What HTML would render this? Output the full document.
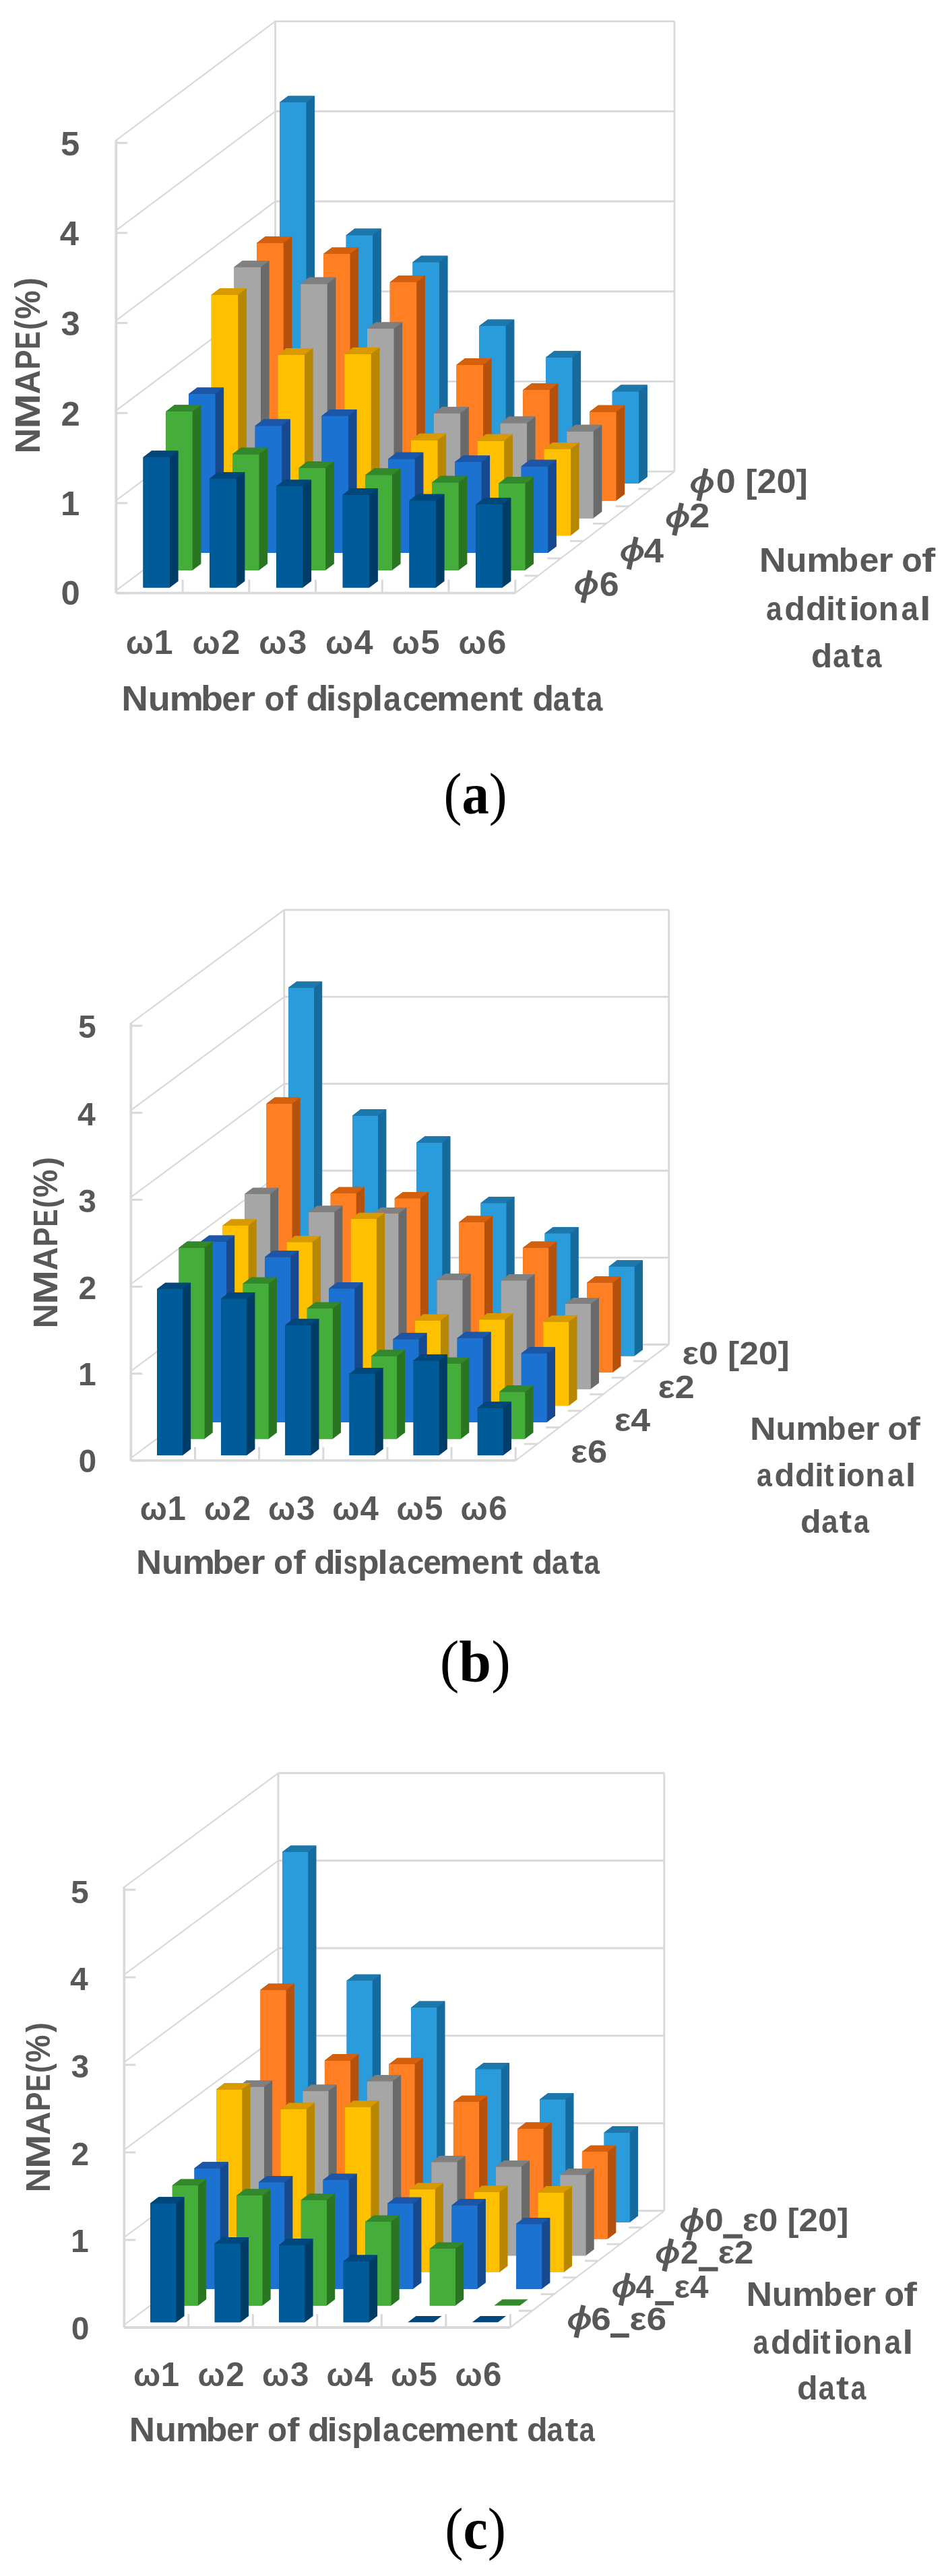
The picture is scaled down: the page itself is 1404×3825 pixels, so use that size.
<!DOCTYPE html>
<html><head><meta charset="utf-8"><title>NMAPE 3D column charts</title>
<style>html,body{margin:0;padding:0;background:#fff;width:1404px;height:3825px;overflow:hidden}svg{display:block;will-change:transform}</style></head>
<body>
<svg width="1404" height="3825" viewBox="0 0 1404 3825" shape-rendering="geometricPrecision">
<defs><filter id="soft" filterUnits="userSpaceOnUse" x="0" y="0" width="1404" height="3825"><feGaussianBlur stdDeviation="0.45"/></filter></defs>
<rect width="1404" height="3825" fill="#fff"/>
<g filter="url(#soft)">
<line x1="408.6" y1="700.1" x2="1001.0" y2="700.1" stroke="#d9d9d9" stroke-width="2.9"/>
<line x1="172.3" y1="876.9" x2="408.6" y2="700.1" stroke="#d9d9d9" stroke-width="2.2"/>
<line x1="408.6" y1="566.4" x2="1001.0" y2="566.4" stroke="#d9d9d9" stroke-width="2.9"/>
<line x1="172.3" y1="743.2" x2="408.6" y2="566.4" stroke="#d9d9d9" stroke-width="2.2"/>
<line x1="408.6" y1="432.7" x2="1001.0" y2="432.7" stroke="#d9d9d9" stroke-width="2.9"/>
<line x1="172.3" y1="609.5" x2="408.6" y2="432.7" stroke="#d9d9d9" stroke-width="2.2"/>
<line x1="408.6" y1="299.0" x2="1001.0" y2="299.0" stroke="#d9d9d9" stroke-width="2.9"/>
<line x1="172.3" y1="475.8" x2="408.6" y2="299.0" stroke="#d9d9d9" stroke-width="2.2"/>
<line x1="408.6" y1="165.3" x2="1001.0" y2="165.3" stroke="#d9d9d9" stroke-width="2.9"/>
<line x1="172.3" y1="342.1" x2="408.6" y2="165.3" stroke="#d9d9d9" stroke-width="2.2"/>
<line x1="408.6" y1="31.6" x2="1001.0" y2="31.6" stroke="#d9d9d9" stroke-width="2.9"/>
<line x1="172.3" y1="208.4" x2="408.6" y2="31.6" stroke="#d9d9d9" stroke-width="2.2"/>
<line x1="408.6" y1="700.1" x2="408.6" y2="31.6" stroke="#d9d9d9" stroke-width="2.9"/>
<line x1="1001.0" y1="700.1" x2="1001.0" y2="31.6" stroke="#d9d9d9" stroke-width="2.9"/>
<line x1="764.8" y1="880.7" x2="1001.0" y2="700.1" stroke="#d9d9d9" stroke-width="2.2"/>
<line x1="778.5" y1="854.9" x2="798.5" y2="854.9" stroke="#d9d9d9" stroke-width="2.9"/>
<line x1="812.3" y1="829.1" x2="832.3" y2="829.1" stroke="#d9d9d9" stroke-width="2.9"/>
<line x1="846.0" y1="803.3" x2="866.0" y2="803.3" stroke="#d9d9d9" stroke-width="2.9"/>
<line x1="879.8" y1="777.5" x2="899.8" y2="777.5" stroke="#d9d9d9" stroke-width="2.9"/>
<line x1="913.5" y1="751.7" x2="933.5" y2="751.7" stroke="#d9d9d9" stroke-width="2.9"/>
<line x1="947.3" y1="725.9" x2="967.3" y2="725.9" stroke="#d9d9d9" stroke-width="2.9"/>
<polygon points="415.0,717.8 454.5,717.8 467.1,708.2 467.1,142.4 427.6,142.4 415.0,152.1" fill="#136a9c"/>
<polygon points="415.0,717.8 454.5,717.8 454.5,152.1 415.0,152.1" fill="#2a9bdb"/>
<polygon points="415.0,152.1 454.5,152.1 467.1,142.4 427.6,142.4" fill="#1b77aa"/>
<polygon points="513.7,717.8 553.2,717.8 565.9,708.2 565.9,339.5 526.4,339.5 513.7,349.2" fill="#136a9c"/>
<polygon points="513.7,717.8 553.2,717.8 553.2,349.2 513.7,349.2" fill="#2a9bdb"/>
<polygon points="513.7,349.2 553.2,349.2 565.9,339.5 526.4,339.5" fill="#1b77aa"/>
<polygon points="612.5,717.8 652.0,717.8 664.6,708.2 664.6,379.7 625.1,379.7 612.5,389.3" fill="#136a9c"/>
<polygon points="612.5,717.8 652.0,717.8 652.0,389.3 612.5,389.3" fill="#2a9bdb"/>
<polygon points="612.5,389.3 652.0,389.3 664.6,379.7 625.1,379.7" fill="#1b77aa"/>
<polygon points="711.2,717.8 750.7,717.8 763.4,708.2 763.4,474.5 723.9,474.5 711.2,484.1" fill="#136a9c"/>
<polygon points="711.2,717.8 750.7,717.8 750.7,484.1 711.2,484.1" fill="#2a9bdb"/>
<polygon points="711.2,484.1 750.7,484.1 763.4,474.5 723.9,474.5" fill="#1b77aa"/>
<polygon points="810.0,717.8 849.5,717.8 862.1,708.2 862.1,521.0 822.6,521.0 810.0,530.7" fill="#136a9c"/>
<polygon points="810.0,717.8 849.5,717.8 849.5,530.7 810.0,530.7" fill="#2a9bdb"/>
<polygon points="810.0,530.7 849.5,530.7 862.1,521.0 822.6,521.0" fill="#1b77aa"/>
<polygon points="908.7,717.8 948.2,717.8 960.9,708.2 960.9,571.6 921.4,571.6 908.7,581.3" fill="#136a9c"/>
<polygon points="908.7,717.8 948.2,717.8 948.2,581.3 908.7,581.3" fill="#2a9bdb"/>
<polygon points="908.7,581.3 948.2,581.3 960.9,571.6 921.4,571.6" fill="#1b77aa"/>
<polygon points="381.2,743.6 420.7,743.6 433.4,734.0 433.4,351.1 393.9,351.1 381.2,360.8" fill="#b4510f"/>
<polygon points="381.2,743.6 420.7,743.6 420.7,360.8 381.2,360.8" fill="#ff7f24"/>
<polygon points="381.2,360.8 420.7,360.8 433.4,351.1 393.9,351.1" fill="#d4600f"/>
<polygon points="480.0,743.6 519.5,743.6 532.1,734.0 532.1,367.4 492.6,367.4 480.0,377.1" fill="#b4510f"/>
<polygon points="480.0,743.6 519.5,743.6 519.5,377.1 480.0,377.1" fill="#ff7f24"/>
<polygon points="480.0,377.1 519.5,377.1 532.1,367.4 492.6,367.4" fill="#d4600f"/>
<polygon points="578.7,743.6 618.2,743.6 630.9,734.0 630.9,409.2 591.4,409.2 578.7,418.9" fill="#b4510f"/>
<polygon points="578.7,743.6 618.2,743.6 618.2,418.9 578.7,418.9" fill="#ff7f24"/>
<polygon points="578.7,418.9 618.2,418.9 630.9,409.2 591.4,409.2" fill="#d4600f"/>
<polygon points="677.5,743.6 717.0,743.6 729.6,734.0 729.6,532.0 690.1,532.0 677.5,541.7" fill="#b4510f"/>
<polygon points="677.5,743.6 717.0,743.6 717.0,541.7 677.5,541.7" fill="#ff7f24"/>
<polygon points="677.5,541.7 717.0,541.7 729.6,532.0 690.1,532.0" fill="#d4600f"/>
<polygon points="776.2,743.6 815.7,743.6 828.4,734.0 828.4,569.3 788.9,569.3 776.2,579.0" fill="#b4510f"/>
<polygon points="776.2,743.6 815.7,743.6 815.7,579.0 776.2,579.0" fill="#ff7f24"/>
<polygon points="776.2,579.0 815.7,579.0 828.4,569.3 788.9,569.3" fill="#d4600f"/>
<polygon points="875.0,743.6 914.5,743.6 927.1,734.0 927.1,601.7 887.6,601.7 875.0,611.4" fill="#b4510f"/>
<polygon points="875.0,743.6 914.5,743.6 914.5,611.4 875.0,611.4" fill="#ff7f24"/>
<polygon points="875.0,611.4 914.5,611.4 927.1,601.7 887.6,601.7" fill="#d4600f"/>
<polygon points="347.5,769.4 387.0,769.4 399.6,759.8 399.6,387.0 360.1,387.0 347.5,396.6" fill="#6b6b6b"/>
<polygon points="347.5,769.4 387.0,769.4 387.0,396.6 347.5,396.6" fill="#a6a6a6"/>
<polygon points="347.5,396.6 387.0,396.6 399.6,387.0 360.1,387.0" fill="#808080"/>
<polygon points="446.2,769.4 485.7,769.4 498.4,759.8 498.4,411.8 458.9,411.8 446.2,421.5" fill="#6b6b6b"/>
<polygon points="446.2,769.4 485.7,769.4 485.7,421.5 446.2,421.5" fill="#a6a6a6"/>
<polygon points="446.2,421.5 485.7,421.5 498.4,411.8 458.9,411.8" fill="#808080"/>
<polygon points="545.0,769.4 584.5,769.4 597.1,759.8 597.1,478.4 557.6,478.4 545.0,488.1" fill="#6b6b6b"/>
<polygon points="545.0,769.4 584.5,769.4 584.5,488.1 545.0,488.1" fill="#a6a6a6"/>
<polygon points="545.0,488.1 584.5,488.1 597.1,478.4 557.6,478.4" fill="#808080"/>
<polygon points="643.7,769.4 683.2,769.4 695.9,759.8 695.9,603.9 656.4,603.9 643.7,613.6" fill="#6b6b6b"/>
<polygon points="643.7,769.4 683.2,769.4 683.2,613.6 643.7,613.6" fill="#a6a6a6"/>
<polygon points="643.7,613.6 683.2,613.6 695.9,603.9 656.4,603.9" fill="#808080"/>
<polygon points="742.5,769.4 782.0,769.4 794.6,759.8 794.6,618.6 755.1,618.6 742.5,628.2" fill="#6b6b6b"/>
<polygon points="742.5,769.4 782.0,769.4 782.0,628.2 742.5,628.2" fill="#a6a6a6"/>
<polygon points="742.5,628.2 782.0,628.2 794.6,618.6 755.1,618.6" fill="#808080"/>
<polygon points="841.2,769.4 880.7,769.4 893.4,759.8 893.4,630.7 853.9,630.7 841.2,640.4" fill="#6b6b6b"/>
<polygon points="841.2,769.4 880.7,769.4 880.7,640.4 841.2,640.4" fill="#a6a6a6"/>
<polygon points="841.2,640.4 880.7,640.4 893.4,630.7 853.9,630.7" fill="#808080"/>
<polygon points="313.7,795.2 353.2,795.2 365.9,785.6 365.9,428.1 326.4,428.1 313.7,437.8" fill="#b88700"/>
<polygon points="313.7,795.2 353.2,795.2 353.2,437.8 313.7,437.8" fill="#ffc000"/>
<polygon points="313.7,437.8 353.2,437.8 365.9,428.1 326.4,428.1" fill="#d89a00"/>
<polygon points="412.5,795.2 452.0,795.2 464.6,785.6 464.6,517.1 425.1,517.1 412.5,526.8" fill="#b88700"/>
<polygon points="412.5,795.2 452.0,795.2 452.0,526.8 412.5,526.8" fill="#ffc000"/>
<polygon points="412.5,526.8 452.0,526.8 464.6,517.1 425.1,517.1" fill="#d89a00"/>
<polygon points="511.2,795.2 550.7,795.2 563.4,785.6 563.4,516.1 523.9,516.1 511.2,525.8" fill="#b88700"/>
<polygon points="511.2,795.2 550.7,795.2 550.7,525.8 511.2,525.8" fill="#ffc000"/>
<polygon points="511.2,525.8 550.7,525.8 563.4,516.1 523.9,516.1" fill="#d89a00"/>
<polygon points="610.0,795.2 649.5,795.2 662.1,785.6 662.1,643.8 622.6,643.8 610.0,653.5" fill="#b88700"/>
<polygon points="610.0,795.2 649.5,795.2 649.5,653.5 610.0,653.5" fill="#ffc000"/>
<polygon points="610.0,653.5 649.5,653.5 662.1,643.8 622.6,643.8" fill="#d89a00"/>
<polygon points="708.7,795.2 748.2,795.2 760.9,785.6 760.9,644.8 721.4,644.8 708.7,654.4" fill="#b88700"/>
<polygon points="708.7,795.2 748.2,795.2 748.2,654.4 708.7,654.4" fill="#ffc000"/>
<polygon points="708.7,654.4 748.2,654.4 760.9,644.8 721.4,644.8" fill="#d89a00"/>
<polygon points="807.5,795.2 847.0,795.2 859.6,785.6 859.6,656.9 820.1,656.9 807.5,666.6" fill="#b88700"/>
<polygon points="807.5,795.2 847.0,795.2 847.0,666.6 807.5,666.6" fill="#ffc000"/>
<polygon points="807.5,666.6 847.0,666.6 859.6,656.9 820.1,656.9" fill="#d89a00"/>
<polygon points="280.0,821.0 319.5,821.0 332.1,811.4 332.1,575.4 292.6,575.4 280.0,585.1" fill="#164a8e"/>
<polygon points="280.0,821.0 319.5,821.0 319.5,585.1 280.0,585.1" fill="#1e72d0"/>
<polygon points="280.0,585.1 319.5,585.1 332.1,575.4 292.6,575.4" fill="#1a56a8"/>
<polygon points="378.7,821.0 418.2,821.0 430.9,811.4 430.9,622.6 391.4,622.6 378.7,632.3" fill="#164a8e"/>
<polygon points="378.7,821.0 418.2,821.0 418.2,632.3 378.7,632.3" fill="#1e72d0"/>
<polygon points="378.7,632.3 418.2,632.3 430.9,622.6 391.4,622.6" fill="#1a56a8"/>
<polygon points="477.5,821.0 517.0,821.0 529.6,811.4 529.6,608.0 490.1,608.0 477.5,617.6" fill="#164a8e"/>
<polygon points="477.5,821.0 517.0,821.0 517.0,617.6 477.5,617.6" fill="#1e72d0"/>
<polygon points="477.5,617.6 517.0,617.6 529.6,608.0 490.1,608.0" fill="#1a56a8"/>
<polygon points="576.2,821.0 615.7,821.0 628.4,811.4 628.4,671.8 588.9,671.8 576.2,681.5" fill="#164a8e"/>
<polygon points="576.2,821.0 615.7,821.0 615.7,681.5 576.2,681.5" fill="#1e72d0"/>
<polygon points="576.2,681.5 615.7,681.5 628.4,671.8 588.9,671.8" fill="#1a56a8"/>
<polygon points="675.0,821.0 714.5,821.0 727.1,811.4 727.1,676.4 687.6,676.4 675.0,686.1" fill="#164a8e"/>
<polygon points="675.0,821.0 714.5,821.0 714.5,686.1 675.0,686.1" fill="#1e72d0"/>
<polygon points="675.0,686.1 714.5,686.1 727.1,676.4 687.6,676.4" fill="#1a56a8"/>
<polygon points="773.7,821.0 813.2,821.0 825.9,811.4 825.9,682.7 786.4,682.7 773.7,692.4" fill="#164a8e"/>
<polygon points="773.7,821.0 813.2,821.0 813.2,692.4 773.7,692.4" fill="#1e72d0"/>
<polygon points="773.7,692.4 813.2,692.4 825.9,682.7 786.4,682.7" fill="#1a56a8"/>
<polygon points="246.2,846.8 285.7,846.8 298.4,837.2 298.4,601.2 258.9,601.2 246.2,610.9" fill="#2b7523"/>
<polygon points="246.2,846.8 285.7,846.8 285.7,610.9 246.2,610.9" fill="#44ae3b"/>
<polygon points="246.2,610.9 285.7,610.9 298.4,601.2 258.9,601.2" fill="#32882b"/>
<polygon points="345.0,846.8 384.5,846.8 397.1,837.2 397.1,664.7 357.6,664.7 345.0,674.4" fill="#2b7523"/>
<polygon points="345.0,846.8 384.5,846.8 384.5,674.4 345.0,674.4" fill="#44ae3b"/>
<polygon points="345.0,674.4 384.5,674.4 397.1,664.7 357.6,664.7" fill="#32882b"/>
<polygon points="443.7,846.8 483.2,846.8 495.9,837.2 495.9,685.0 456.4,685.0 443.7,694.7" fill="#2b7523"/>
<polygon points="443.7,846.8 483.2,846.8 483.2,694.7 443.7,694.7" fill="#44ae3b"/>
<polygon points="443.7,694.7 483.2,694.7 495.9,685.0 456.4,685.0" fill="#32882b"/>
<polygon points="542.5,846.8 582.0,846.8 594.6,837.2 594.6,695.6 555.1,695.6 542.5,705.2" fill="#2b7523"/>
<polygon points="542.5,846.8 582.0,846.8 582.0,705.2 542.5,705.2" fill="#44ae3b"/>
<polygon points="542.5,705.2 582.0,705.2 594.6,695.6 555.1,695.6" fill="#32882b"/>
<polygon points="641.2,846.8 680.7,846.8 693.4,837.2 693.4,706.7 653.9,706.7 641.2,716.3" fill="#2b7523"/>
<polygon points="641.2,846.8 680.7,846.8 680.7,716.3 641.2,716.3" fill="#44ae3b"/>
<polygon points="641.2,716.3 680.7,716.3 693.4,706.7 653.9,706.7" fill="#32882b"/>
<polygon points="740.0,846.8 779.5,846.8 792.1,837.2 792.1,708.3 752.6,708.3 740.0,717.9" fill="#2b7523"/>
<polygon points="740.0,846.8 779.5,846.8 779.5,717.9 740.0,717.9" fill="#44ae3b"/>
<polygon points="740.0,717.9 779.5,717.9 792.1,708.3 752.6,708.3" fill="#32882b"/>
<polygon points="212.5,872.6 252.0,872.6 264.6,863.0 264.6,669.3 225.1,669.3 212.5,679.0" fill="#003c66"/>
<polygon points="212.5,872.6 252.0,872.6 252.0,679.0 212.5,679.0" fill="#005c99"/>
<polygon points="212.5,679.0 252.0,679.0 264.6,669.3 225.1,669.3" fill="#00477b"/>
<polygon points="311.2,872.6 350.7,872.6 363.4,863.0 363.4,700.9 323.9,700.9 311.2,710.6" fill="#003c66"/>
<polygon points="311.2,872.6 350.7,872.6 350.7,710.6 311.2,710.6" fill="#005c99"/>
<polygon points="311.2,710.6 350.7,710.6 363.4,700.9 323.9,700.9" fill="#00477b"/>
<polygon points="410.0,872.6 449.5,872.6 462.1,863.0 462.1,712.4 422.6,712.4 410.0,722.1" fill="#003c66"/>
<polygon points="410.0,872.6 449.5,872.6 449.5,722.1 410.0,722.1" fill="#005c99"/>
<polygon points="410.0,722.1 449.5,722.1 462.1,712.4 422.6,712.4" fill="#00477b"/>
<polygon points="508.7,872.6 548.2,872.6 560.9,863.0 560.9,725.1 521.4,725.1 508.7,734.8" fill="#003c66"/>
<polygon points="508.7,872.6 548.2,872.6 548.2,734.8 508.7,734.8" fill="#005c99"/>
<polygon points="508.7,734.8 548.2,734.8 560.9,725.1 521.4,725.1" fill="#00477b"/>
<polygon points="607.5,872.6 647.0,872.6 659.6,863.0 659.6,733.7 620.1,733.7 607.5,743.3" fill="#003c66"/>
<polygon points="607.5,872.6 647.0,872.6 647.0,743.3 607.5,743.3" fill="#005c99"/>
<polygon points="607.5,743.3 647.0,743.3 659.6,733.7 620.1,733.7" fill="#00477b"/>
<polygon points="706.2,872.6 745.7,872.6 758.4,863.0 758.4,739.3 718.9,739.3 706.2,748.9" fill="#003c66"/>
<polygon points="706.2,872.6 745.7,872.6 745.7,748.9 706.2,748.9" fill="#005c99"/>
<polygon points="706.2,748.9 745.7,748.9 758.4,739.3 718.9,739.3" fill="#00477b"/>
<line x1="172.3" y1="880.7" x2="172.3" y2="207.7" stroke="#d9d9d9" stroke-width="3.8"/>
<line x1="172.3" y1="880.7" x2="764.8" y2="880.7" stroke="#d9d9d9" stroke-width="3.8"/>
<line x1="172.3" y1="880.7" x2="189.3" y2="880.7" stroke="#d9d9d9" stroke-width="3.0"/>
<line x1="172.3" y1="747.0" x2="189.3" y2="747.0" stroke="#d9d9d9" stroke-width="3.0"/>
<line x1="172.3" y1="613.3" x2="189.3" y2="613.3" stroke="#d9d9d9" stroke-width="3.0"/>
<line x1="172.3" y1="479.6" x2="189.3" y2="479.6" stroke="#d9d9d9" stroke-width="3.0"/>
<line x1="172.3" y1="345.9" x2="189.3" y2="345.9" stroke="#d9d9d9" stroke-width="3.0"/>
<line x1="172.3" y1="212.2" x2="189.3" y2="212.2" stroke="#d9d9d9" stroke-width="3.0"/>
<line x1="271.1" y1="860.7" x2="271.1" y2="880.7" stroke="#d9d9d9" stroke-width="3.0"/>
<line x1="369.8" y1="860.7" x2="369.8" y2="880.7" stroke="#d9d9d9" stroke-width="3.0"/>
<line x1="468.6" y1="860.7" x2="468.6" y2="880.7" stroke="#d9d9d9" stroke-width="3.0"/>
<line x1="567.3" y1="860.7" x2="567.3" y2="880.7" stroke="#d9d9d9" stroke-width="3.0"/>
<line x1="666.0" y1="860.7" x2="666.0" y2="880.7" stroke="#d9d9d9" stroke-width="3.0"/>
<line x1="764.8" y1="860.7" x2="764.8" y2="880.7" stroke="#d9d9d9" stroke-width="3.0"/>
<line x1="421.8" y1="1996.5" x2="992.7" y2="1996.5" stroke="#d9d9d9" stroke-width="2.9"/>
<line x1="194.3" y1="2164.9" x2="421.8" y2="1996.5" stroke="#d9d9d9" stroke-width="2.2"/>
<line x1="421.8" y1="1867.4" x2="992.7" y2="1867.4" stroke="#d9d9d9" stroke-width="2.9"/>
<line x1="194.3" y1="2035.8" x2="421.8" y2="1867.4" stroke="#d9d9d9" stroke-width="2.2"/>
<line x1="421.8" y1="1738.3" x2="992.7" y2="1738.3" stroke="#d9d9d9" stroke-width="2.9"/>
<line x1="194.3" y1="1906.7" x2="421.8" y2="1738.3" stroke="#d9d9d9" stroke-width="2.2"/>
<line x1="421.8" y1="1609.2" x2="992.7" y2="1609.2" stroke="#d9d9d9" stroke-width="2.9"/>
<line x1="194.3" y1="1777.6" x2="421.8" y2="1609.2" stroke="#d9d9d9" stroke-width="2.2"/>
<line x1="421.8" y1="1480.1" x2="992.7" y2="1480.1" stroke="#d9d9d9" stroke-width="2.9"/>
<line x1="194.3" y1="1648.5" x2="421.8" y2="1480.1" stroke="#d9d9d9" stroke-width="2.2"/>
<line x1="421.8" y1="1351.0" x2="992.7" y2="1351.0" stroke="#d9d9d9" stroke-width="2.9"/>
<line x1="194.3" y1="1519.4" x2="421.8" y2="1351.0" stroke="#d9d9d9" stroke-width="2.2"/>
<line x1="421.8" y1="1996.5" x2="421.8" y2="1351.0" stroke="#d9d9d9" stroke-width="2.9"/>
<line x1="992.7" y1="1996.5" x2="992.7" y2="1351.0" stroke="#d9d9d9" stroke-width="2.9"/>
<line x1="765.2" y1="2168.7" x2="992.7" y2="1996.5" stroke="#d9d9d9" stroke-width="2.2"/>
<line x1="777.7" y1="2144.1" x2="797.7" y2="2144.1" stroke="#d9d9d9" stroke-width="2.9"/>
<line x1="810.2" y1="2119.5" x2="830.2" y2="2119.5" stroke="#d9d9d9" stroke-width="2.9"/>
<line x1="842.7" y1="2094.9" x2="862.7" y2="2094.9" stroke="#d9d9d9" stroke-width="2.9"/>
<line x1="875.2" y1="2070.3" x2="895.2" y2="2070.3" stroke="#d9d9d9" stroke-width="2.9"/>
<line x1="907.7" y1="2045.7" x2="927.7" y2="2045.7" stroke="#d9d9d9" stroke-width="2.9"/>
<line x1="940.2" y1="2021.1" x2="960.2" y2="2021.1" stroke="#d9d9d9" stroke-width="2.9"/>
<polygon points="428.0,2013.4 466.1,2013.4 478.2,2004.2 478.2,1457.4 440.2,1457.4 428.0,1466.6" fill="#136a9c"/>
<polygon points="428.0,2013.4 466.1,2013.4 466.1,1466.6 428.0,1466.6" fill="#2a9bdb"/>
<polygon points="428.0,1466.6 466.1,1466.6 478.2,1457.4 440.2,1457.4" fill="#1b77aa"/>
<polygon points="523.2,2013.4 561.2,2013.4 573.4,2004.2 573.4,1647.1 535.3,1647.1 523.2,1656.4" fill="#136a9c"/>
<polygon points="523.2,2013.4 561.2,2013.4 561.2,1656.4 523.2,1656.4" fill="#2a9bdb"/>
<polygon points="523.2,1656.4 561.2,1656.4 573.4,1647.1 535.3,1647.1" fill="#1b77aa"/>
<polygon points="618.3,2013.4 656.4,2013.4 668.5,2004.2 668.5,1687.3 630.5,1687.3 618.3,1696.5" fill="#136a9c"/>
<polygon points="618.3,2013.4 656.4,2013.4 656.4,1696.5 618.3,1696.5" fill="#2a9bdb"/>
<polygon points="618.3,1696.5 656.4,1696.5 668.5,1687.3 630.5,1687.3" fill="#1b77aa"/>
<polygon points="713.5,2013.4 751.5,2013.4 763.7,2004.2 763.7,1777.0 725.6,1777.0 713.5,1786.2" fill="#136a9c"/>
<polygon points="713.5,2013.4 751.5,2013.4 751.5,1786.2 713.5,1786.2" fill="#2a9bdb"/>
<polygon points="713.5,1786.2 751.5,1786.2 763.7,1777.0 725.6,1777.0" fill="#1b77aa"/>
<polygon points="808.6,2013.4 846.7,2013.4 858.8,2004.2 858.8,1821.9 820.8,1821.9 808.6,1831.2" fill="#136a9c"/>
<polygon points="808.6,2013.4 846.7,2013.4 846.7,1831.2 808.6,1831.2" fill="#2a9bdb"/>
<polygon points="808.6,1831.2 846.7,1831.2 858.8,1821.9 820.8,1821.9" fill="#1b77aa"/>
<polygon points="903.8,2013.4 941.8,2013.4 954.0,2004.2 954.0,1871.3 915.9,1871.3 903.8,1880.5" fill="#136a9c"/>
<polygon points="903.8,2013.4 941.8,2013.4 941.8,1880.5 903.8,1880.5" fill="#2a9bdb"/>
<polygon points="903.8,1880.5 941.8,1880.5 954.0,1871.3 915.9,1871.3" fill="#1b77aa"/>
<polygon points="395.5,2038.0 433.6,2038.0 445.7,2028.8 445.7,1629.5 407.7,1629.5 395.5,1638.8" fill="#b4510f"/>
<polygon points="395.5,2038.0 433.6,2038.0 433.6,1638.8 395.5,1638.8" fill="#ff7f24"/>
<polygon points="395.5,1638.8 433.6,1638.8 445.7,1629.5 407.7,1629.5" fill="#d4600f"/>
<polygon points="490.7,2038.0 528.7,2038.0 540.9,2028.8 540.9,1762.8 502.8,1762.8 490.7,1772.0" fill="#b4510f"/>
<polygon points="490.7,2038.0 528.7,2038.0 528.7,1772.0 490.7,1772.0" fill="#ff7f24"/>
<polygon points="490.7,1772.0 528.7,1772.0 540.9,1762.8 502.8,1762.8" fill="#d4600f"/>
<polygon points="585.8,2038.0 623.9,2038.0 636.0,2028.8 636.0,1770.1 598.0,1770.1 585.8,1779.3" fill="#b4510f"/>
<polygon points="585.8,2038.0 623.9,2038.0 623.9,1779.3 585.8,1779.3" fill="#ff7f24"/>
<polygon points="585.8,1779.3 623.9,1779.3 636.0,1770.1 598.0,1770.1" fill="#d4600f"/>
<polygon points="681.0,2038.0 719.0,2038.0 731.2,2028.8 731.2,1805.6 693.1,1805.6 681.0,1814.9" fill="#b4510f"/>
<polygon points="681.0,2038.0 719.0,2038.0 719.0,1814.9 681.0,1814.9" fill="#ff7f24"/>
<polygon points="681.0,1814.9 719.0,1814.9 731.2,1805.6 693.1,1805.6" fill="#d4600f"/>
<polygon points="776.1,2038.0 814.2,2038.0 826.3,2028.8 826.3,1843.5 788.3,1843.5 776.1,1852.7" fill="#b4510f"/>
<polygon points="776.1,2038.0 814.2,2038.0 814.2,1852.7 776.1,1852.7" fill="#ff7f24"/>
<polygon points="776.1,1852.7 814.2,1852.7 826.3,1843.5 788.3,1843.5" fill="#d4600f"/>
<polygon points="871.3,2038.0 909.3,2038.0 921.5,2028.8 921.5,1895.3 883.4,1895.3 871.3,1904.6" fill="#b4510f"/>
<polygon points="871.3,2038.0 909.3,2038.0 909.3,1904.6 871.3,1904.6" fill="#ff7f24"/>
<polygon points="871.3,1904.6 909.3,1904.6 921.5,1895.3 883.4,1895.3" fill="#d4600f"/>
<polygon points="363.0,2062.6 401.1,2062.6 413.2,2053.4 413.2,1763.7 375.2,1763.7 363.0,1773.0" fill="#6b6b6b"/>
<polygon points="363.0,2062.6 401.1,2062.6 401.1,1773.0 363.0,1773.0" fill="#a6a6a6"/>
<polygon points="363.0,1773.0 401.1,1773.0 413.2,1763.7 375.2,1763.7" fill="#808080"/>
<polygon points="458.2,2062.6 496.2,2062.6 508.4,2053.4 508.4,1790.6 470.3,1790.6 458.2,1799.8" fill="#6b6b6b"/>
<polygon points="458.2,2062.6 496.2,2062.6 496.2,1799.8 458.2,1799.8" fill="#a6a6a6"/>
<polygon points="458.2,1799.8 496.2,1799.8 508.4,1790.6 470.3,1790.6" fill="#808080"/>
<polygon points="553.3,2062.6 591.4,2062.6 603.5,2053.4 603.5,1792.9 565.5,1792.9 553.3,1802.1" fill="#6b6b6b"/>
<polygon points="553.3,2062.6 591.4,2062.6 591.4,1802.1 553.3,1802.1" fill="#a6a6a6"/>
<polygon points="553.3,1802.1 591.4,1802.1 603.5,1792.9 565.5,1792.9" fill="#808080"/>
<polygon points="648.5,2062.6 686.5,2062.6 698.7,2053.4 698.7,1891.2 660.6,1891.2 648.5,1900.4" fill="#6b6b6b"/>
<polygon points="648.5,2062.6 686.5,2062.6 686.5,1900.4 648.5,1900.4" fill="#a6a6a6"/>
<polygon points="648.5,1900.4 686.5,1900.4 698.7,1891.2 660.6,1891.2" fill="#808080"/>
<polygon points="743.6,2062.6 781.7,2062.6 793.8,2053.4 793.8,1892.1 755.8,1892.1 743.6,1901.3" fill="#6b6b6b"/>
<polygon points="743.6,2062.6 781.7,2062.6 781.7,1901.3 743.6,1901.3" fill="#a6a6a6"/>
<polygon points="743.6,1901.3 781.7,1901.3 793.8,1892.1 755.8,1892.1" fill="#808080"/>
<polygon points="838.8,2062.6 876.8,2062.6 889.0,2053.4 889.0,1926.9 850.9,1926.9 838.8,1936.1" fill="#6b6b6b"/>
<polygon points="838.8,2062.6 876.8,2062.6 876.8,1936.1 838.8,1936.1" fill="#a6a6a6"/>
<polygon points="838.8,1936.1 876.8,1936.1 889.0,1926.9 850.9,1926.9" fill="#808080"/>
<polygon points="330.5,2087.2 368.6,2087.2 380.7,2078.0 380.7,1810.5 342.7,1810.5 330.5,1819.8" fill="#b88700"/>
<polygon points="330.5,2087.2 368.6,2087.2 368.6,1819.8 330.5,1819.8" fill="#ffc000"/>
<polygon points="330.5,1819.8 368.6,1819.8 380.7,1810.5 342.7,1810.5" fill="#d89a00"/>
<polygon points="425.7,2087.2 463.7,2087.2 475.9,2078.0 475.9,1834.9 437.8,1834.9 425.7,1844.2" fill="#b88700"/>
<polygon points="425.7,2087.2 463.7,2087.2 463.7,1844.2 425.7,1844.2" fill="#ffc000"/>
<polygon points="425.7,1844.2 463.7,1844.2 475.9,1834.9 437.8,1834.9" fill="#d89a00"/>
<polygon points="520.8,2087.2 558.9,2087.2 571.0,2078.0 571.0,1800.7 533.0,1800.7 520.8,1810.0" fill="#b88700"/>
<polygon points="520.8,2087.2 558.9,2087.2 558.9,1810.0 520.8,1810.0" fill="#ffc000"/>
<polygon points="520.8,1810.0 558.9,1810.0 571.0,1800.7 533.0,1800.7" fill="#d89a00"/>
<polygon points="616.0,2087.2 654.0,2087.2 666.2,2078.0 666.2,1951.5 628.1,1951.5 616.0,1960.7" fill="#b88700"/>
<polygon points="616.0,2087.2 654.0,2087.2 654.0,1960.7 616.0,1960.7" fill="#ffc000"/>
<polygon points="616.0,1960.7 654.0,1960.7 666.2,1951.5 628.1,1951.5" fill="#d89a00"/>
<polygon points="711.1,2087.2 749.2,2087.2 761.3,2078.0 761.3,1950.1 723.3,1950.1 711.1,1959.3" fill="#b88700"/>
<polygon points="711.1,2087.2 749.2,2087.2 749.2,1959.3 711.1,1959.3" fill="#ffc000"/>
<polygon points="711.1,1959.3 749.2,1959.3 761.3,1950.1 723.3,1950.1" fill="#d89a00"/>
<polygon points="806.3,2087.2 844.3,2087.2 856.5,2078.0 856.5,1953.6 818.4,1953.6 806.3,1962.8" fill="#b88700"/>
<polygon points="806.3,2087.2 844.3,2087.2 844.3,1962.8 806.3,1962.8" fill="#ffc000"/>
<polygon points="806.3,1962.8 844.3,1962.8 856.5,1953.6 818.4,1953.6" fill="#d89a00"/>
<polygon points="298.0,2111.8 336.1,2111.8 348.2,2102.6 348.2,1834.4 310.2,1834.4 298.0,1843.6" fill="#164a8e"/>
<polygon points="298.0,2111.8 336.1,2111.8 336.1,1843.6 298.0,1843.6" fill="#1e72d0"/>
<polygon points="298.0,1843.6 336.1,1843.6 348.2,1834.4 310.2,1834.4" fill="#1a56a8"/>
<polygon points="393.2,2111.8 431.2,2111.8 443.4,2102.6 443.4,1857.2 405.3,1857.2 393.2,1866.4" fill="#164a8e"/>
<polygon points="393.2,2111.8 431.2,2111.8 431.2,1866.4 393.2,1866.4" fill="#1e72d0"/>
<polygon points="393.2,1866.4 431.2,1866.4 443.4,1857.2 405.3,1857.2" fill="#1a56a8"/>
<polygon points="488.3,2111.8 526.4,2111.8 538.5,2102.6 538.5,1904.0 500.5,1904.0 488.3,1913.2" fill="#164a8e"/>
<polygon points="488.3,2111.8 526.4,2111.8 526.4,1913.2 488.3,1913.2" fill="#1e72d0"/>
<polygon points="488.3,1913.2 526.4,1913.2 538.5,1904.0 500.5,1904.0" fill="#1a56a8"/>
<polygon points="583.5,2111.8 621.5,2111.8 633.7,2102.6 633.7,1979.2 595.6,1979.2 583.5,1988.4" fill="#164a8e"/>
<polygon points="583.5,2111.8 621.5,2111.8 621.5,1988.4 583.5,1988.4" fill="#1e72d0"/>
<polygon points="583.5,1988.4 621.5,1988.4 633.7,1979.2 595.6,1979.2" fill="#1a56a8"/>
<polygon points="678.6,2111.8 716.7,2111.8 728.8,2102.6 728.8,1977.7 690.8,1977.7 678.6,1986.9" fill="#164a8e"/>
<polygon points="678.6,2111.8 716.7,2111.8 716.7,1986.9 678.6,1986.9" fill="#1e72d0"/>
<polygon points="678.6,1986.9 716.7,1986.9 728.8,1977.7 690.8,1977.7" fill="#1a56a8"/>
<polygon points="773.8,2111.8 811.8,2111.8 824.0,2102.6 824.0,2000.3 785.9,2000.3 773.8,2009.5" fill="#164a8e"/>
<polygon points="773.8,2111.8 811.8,2111.8 811.8,2009.5 773.8,2009.5" fill="#1e72d0"/>
<polygon points="773.8,2009.5 811.8,2009.5 824.0,2000.3 785.9,2000.3" fill="#1a56a8"/>
<polygon points="265.5,2136.4 303.6,2136.4 315.7,2127.2 315.7,1843.6 277.7,1843.6 265.5,1852.8" fill="#2b7523"/>
<polygon points="265.5,2136.4 303.6,2136.4 303.6,1852.8 265.5,1852.8" fill="#44ae3b"/>
<polygon points="265.5,1852.8 303.6,1852.8 315.7,1843.6 277.7,1843.6" fill="#32882b"/>
<polygon points="360.7,2136.4 398.7,2136.4 410.9,2127.2 410.9,1896.8 372.8,1896.8 360.7,1906.0" fill="#2b7523"/>
<polygon points="360.7,2136.4 398.7,2136.4 398.7,1906.0 360.7,1906.0" fill="#44ae3b"/>
<polygon points="360.7,1906.0 398.7,1906.0 410.9,1896.8 372.8,1896.8" fill="#32882b"/>
<polygon points="455.8,2136.4 493.9,2136.4 506.0,2127.2 506.0,1933.8 468.0,1933.8 455.8,1943.1" fill="#2b7523"/>
<polygon points="455.8,2136.4 493.9,2136.4 493.9,1943.1 455.8,1943.1" fill="#44ae3b"/>
<polygon points="455.8,1943.1 493.9,1943.1 506.0,1933.8 468.0,1933.8" fill="#32882b"/>
<polygon points="551.0,2136.4 589.0,2136.4 601.2,2127.2 601.2,2004.6 563.1,2004.6 551.0,2013.8" fill="#2b7523"/>
<polygon points="551.0,2136.4 589.0,2136.4 589.0,2013.8 551.0,2013.8" fill="#44ae3b"/>
<polygon points="551.0,2013.8 589.0,2013.8 601.2,2004.6 563.1,2004.6" fill="#32882b"/>
<polygon points="646.1,2136.4 684.2,2136.4 696.3,2127.2 696.3,2015.7 658.3,2015.7 646.1,2024.9" fill="#2b7523"/>
<polygon points="646.1,2136.4 684.2,2136.4 684.2,2024.9 646.1,2024.9" fill="#44ae3b"/>
<polygon points="646.1,2024.9 684.2,2024.9 696.3,2015.7 658.3,2015.7" fill="#32882b"/>
<polygon points="741.3,2136.4 779.3,2136.4 791.5,2127.2 791.5,2057.1 753.4,2057.1 741.3,2066.4" fill="#2b7523"/>
<polygon points="741.3,2136.4 779.3,2136.4 779.3,2066.4 741.3,2066.4" fill="#44ae3b"/>
<polygon points="741.3,2066.4 779.3,2066.4 791.5,2057.1 753.4,2057.1" fill="#32882b"/>
<polygon points="233.0,2161.0 271.1,2161.0 283.2,2151.8 283.2,1904.7 245.2,1904.7 233.0,1914.0" fill="#003c66"/>
<polygon points="233.0,2161.0 271.1,2161.0 271.1,1914.0 233.0,1914.0" fill="#005c99"/>
<polygon points="233.0,1914.0 271.1,1914.0 283.2,1904.7 245.2,1904.7" fill="#00477b"/>
<polygon points="328.2,2161.0 366.2,2161.0 378.4,2151.8 378.4,1918.9 340.3,1918.9 328.2,1928.2" fill="#003c66"/>
<polygon points="328.2,2161.0 366.2,2161.0 366.2,1928.2 328.2,1928.2" fill="#005c99"/>
<polygon points="328.2,1928.2 366.2,1928.2 378.4,1918.9 340.3,1918.9" fill="#00477b"/>
<polygon points="423.3,2161.0 461.4,2161.0 473.5,2151.8 473.5,1958.6 435.5,1958.6 423.3,1967.8" fill="#003c66"/>
<polygon points="423.3,2161.0 461.4,2161.0 461.4,1967.8 423.3,1967.8" fill="#005c99"/>
<polygon points="423.3,1967.8 461.4,1967.8 473.5,1958.6 435.5,1958.6" fill="#00477b"/>
<polygon points="518.5,2161.0 556.5,2161.0 568.7,2151.8 568.7,2030.9 530.6,2030.9 518.5,2040.1" fill="#003c66"/>
<polygon points="518.5,2161.0 556.5,2161.0 556.5,2040.1 518.5,2040.1" fill="#005c99"/>
<polygon points="518.5,2040.1 556.5,2040.1 568.7,2030.9 530.6,2030.9" fill="#00477b"/>
<polygon points="613.6,2161.0 651.7,2161.0 663.8,2151.8 663.8,2011.0 625.8,2011.0 613.6,2020.2" fill="#003c66"/>
<polygon points="613.6,2161.0 651.7,2161.0 651.7,2020.2 613.6,2020.2" fill="#005c99"/>
<polygon points="613.6,2020.2 651.7,2020.2 663.8,2011.0 625.8,2011.0" fill="#00477b"/>
<polygon points="708.8,2161.0 746.8,2161.0 759.0,2151.8 759.0,2081.4 720.9,2081.4 708.8,2090.6" fill="#003c66"/>
<polygon points="708.8,2161.0 746.8,2161.0 746.8,2090.6 708.8,2090.6" fill="#005c99"/>
<polygon points="708.8,2090.6 746.8,2090.6 759.0,2081.4 720.9,2081.4" fill="#00477b"/>
<line x1="194.3" y1="2168.7" x2="194.3" y2="1518.7" stroke="#d9d9d9" stroke-width="3.8"/>
<line x1="194.3" y1="2168.7" x2="765.2" y2="2168.7" stroke="#d9d9d9" stroke-width="3.8"/>
<line x1="194.3" y1="2168.7" x2="211.3" y2="2168.7" stroke="#d9d9d9" stroke-width="3.0"/>
<line x1="194.3" y1="2039.6" x2="211.3" y2="2039.6" stroke="#d9d9d9" stroke-width="3.0"/>
<line x1="194.3" y1="1910.5" x2="211.3" y2="1910.5" stroke="#d9d9d9" stroke-width="3.0"/>
<line x1="194.3" y1="1781.4" x2="211.3" y2="1781.4" stroke="#d9d9d9" stroke-width="3.0"/>
<line x1="194.3" y1="1652.3" x2="211.3" y2="1652.3" stroke="#d9d9d9" stroke-width="3.0"/>
<line x1="194.3" y1="1523.2" x2="211.3" y2="1523.2" stroke="#d9d9d9" stroke-width="3.0"/>
<line x1="289.5" y1="2148.7" x2="289.5" y2="2168.7" stroke="#d9d9d9" stroke-width="3.0"/>
<line x1="384.6" y1="2148.7" x2="384.6" y2="2168.7" stroke="#d9d9d9" stroke-width="3.0"/>
<line x1="479.8" y1="2148.7" x2="479.8" y2="2168.7" stroke="#d9d9d9" stroke-width="3.0"/>
<line x1="574.9" y1="2148.7" x2="574.9" y2="2168.7" stroke="#d9d9d9" stroke-width="3.0"/>
<line x1="670.0" y1="2148.7" x2="670.0" y2="2168.7" stroke="#d9d9d9" stroke-width="3.0"/>
<line x1="765.2" y1="2148.7" x2="765.2" y2="2168.7" stroke="#d9d9d9" stroke-width="3.0"/>
<line x1="412.9" y1="3282.8" x2="985.8" y2="3282.8" stroke="#d9d9d9" stroke-width="2.9"/>
<line x1="184.3" y1="3452.2" x2="412.9" y2="3282.8" stroke="#d9d9d9" stroke-width="2.2"/>
<line x1="412.9" y1="3152.8" x2="985.8" y2="3152.8" stroke="#d9d9d9" stroke-width="2.9"/>
<line x1="184.3" y1="3322.2" x2="412.9" y2="3152.8" stroke="#d9d9d9" stroke-width="2.2"/>
<line x1="412.9" y1="3022.8" x2="985.8" y2="3022.8" stroke="#d9d9d9" stroke-width="2.9"/>
<line x1="184.3" y1="3192.2" x2="412.9" y2="3022.8" stroke="#d9d9d9" stroke-width="2.2"/>
<line x1="412.9" y1="2892.8" x2="985.8" y2="2892.8" stroke="#d9d9d9" stroke-width="2.9"/>
<line x1="184.3" y1="3062.2" x2="412.9" y2="2892.8" stroke="#d9d9d9" stroke-width="2.2"/>
<line x1="412.9" y1="2762.8" x2="985.8" y2="2762.8" stroke="#d9d9d9" stroke-width="2.9"/>
<line x1="184.3" y1="2932.2" x2="412.9" y2="2762.8" stroke="#d9d9d9" stroke-width="2.2"/>
<line x1="412.9" y1="2632.8" x2="985.8" y2="2632.8" stroke="#d9d9d9" stroke-width="2.9"/>
<line x1="184.3" y1="2802.2" x2="412.9" y2="2632.8" stroke="#d9d9d9" stroke-width="2.2"/>
<line x1="412.9" y1="3282.8" x2="412.9" y2="2632.8" stroke="#d9d9d9" stroke-width="2.9"/>
<line x1="985.8" y1="3282.8" x2="985.8" y2="2632.8" stroke="#d9d9d9" stroke-width="2.9"/>
<line x1="757.3" y1="3456.0" x2="985.8" y2="3282.8" stroke="#d9d9d9" stroke-width="2.2"/>
<line x1="769.9" y1="3431.2" x2="789.9" y2="3431.2" stroke="#d9d9d9" stroke-width="2.9"/>
<line x1="802.6" y1="3406.5" x2="822.6" y2="3406.5" stroke="#d9d9d9" stroke-width="2.9"/>
<line x1="835.2" y1="3381.8" x2="855.2" y2="3381.8" stroke="#d9d9d9" stroke-width="2.9"/>
<line x1="867.9" y1="3357.0" x2="887.9" y2="3357.0" stroke="#d9d9d9" stroke-width="2.9"/>
<line x1="900.5" y1="3332.2" x2="920.5" y2="3332.2" stroke="#d9d9d9" stroke-width="2.9"/>
<line x1="933.2" y1="3307.5" x2="953.2" y2="3307.5" stroke="#d9d9d9" stroke-width="2.9"/>
<polygon points="419.1,3299.8 457.3,3299.8 469.5,3290.5 469.5,2740.5 431.3,2740.5 419.1,2749.8" fill="#136a9c"/>
<polygon points="419.1,3299.8 457.3,3299.8 457.3,2749.8 419.1,2749.8" fill="#2a9bdb"/>
<polygon points="419.1,2749.8 457.3,2749.8 469.5,2740.5 431.3,2740.5" fill="#1b77aa"/>
<polygon points="514.6,3299.8 552.8,3299.8 565.0,3290.5 565.0,2931.7 526.8,2931.7 514.6,2941.0" fill="#136a9c"/>
<polygon points="514.6,3299.8 552.8,3299.8 552.8,2941.0 514.6,2941.0" fill="#2a9bdb"/>
<polygon points="514.6,2941.0 552.8,2941.0 565.0,2931.7 526.8,2931.7" fill="#1b77aa"/>
<polygon points="610.1,3299.8 648.3,3299.8 660.5,3290.5 660.5,2971.6 622.3,2971.6 610.1,2980.9" fill="#136a9c"/>
<polygon points="610.1,3299.8 648.3,3299.8 648.3,2980.9 610.1,2980.9" fill="#2a9bdb"/>
<polygon points="610.1,2980.9 648.3,2980.9 660.5,2971.6 622.3,2971.6" fill="#1b77aa"/>
<polygon points="705.6,3299.8 743.8,3299.8 756.0,3290.5 756.0,3062.9 717.8,3062.9 705.6,3072.2" fill="#136a9c"/>
<polygon points="705.6,3299.8 743.8,3299.8 743.8,3072.2 705.6,3072.2" fill="#2a9bdb"/>
<polygon points="705.6,3072.2 743.8,3072.2 756.0,3062.9 717.8,3062.9" fill="#1b77aa"/>
<polygon points="801.1,3299.8 839.3,3299.8 851.5,3290.5 851.5,3108.0 813.3,3108.0 801.1,3117.3" fill="#136a9c"/>
<polygon points="801.1,3299.8 839.3,3299.8 839.3,3117.3 801.1,3117.3" fill="#2a9bdb"/>
<polygon points="801.1,3117.3 839.3,3117.3 851.5,3108.0 813.3,3108.0" fill="#1b77aa"/>
<polygon points="896.6,3299.8 934.8,3299.8 947.0,3290.5 947.0,3157.3 908.8,3157.3 896.6,3166.6" fill="#136a9c"/>
<polygon points="896.6,3299.8 934.8,3299.8 934.8,3166.6 896.6,3166.6" fill="#2a9bdb"/>
<polygon points="896.6,3166.6 934.8,3166.6 947.0,3157.3 908.8,3157.3" fill="#1b77aa"/>
<polygon points="386.4,3324.5 424.6,3324.5 436.8,3315.2 436.8,2945.4 398.6,2945.4 386.4,2954.7" fill="#b4510f"/>
<polygon points="386.4,3324.5 424.6,3324.5 424.6,2954.7 386.4,2954.7" fill="#ff7f24"/>
<polygon points="386.4,2954.7 424.6,2954.7 436.8,2945.4 398.6,2945.4" fill="#d4600f"/>
<polygon points="481.9,3324.5 520.1,3324.5 532.3,3315.2 532.3,3050.1 494.1,3050.1 481.9,3059.4" fill="#b4510f"/>
<polygon points="481.9,3324.5 520.1,3324.5 520.1,3059.4 481.9,3059.4" fill="#ff7f24"/>
<polygon points="481.9,3059.4 520.1,3059.4 532.3,3050.1 494.1,3050.1" fill="#d4600f"/>
<polygon points="577.4,3324.5 615.6,3324.5 627.8,3315.2 627.8,3055.7 589.6,3055.7 577.4,3065.0" fill="#b4510f"/>
<polygon points="577.4,3324.5 615.6,3324.5 615.6,3065.0 577.4,3065.0" fill="#ff7f24"/>
<polygon points="577.4,3065.0 615.6,3065.0 627.8,3055.7 589.6,3055.7" fill="#d4600f"/>
<polygon points="672.9,3324.5 711.1,3324.5 723.3,3315.2 723.3,3111.7 685.1,3111.7 672.9,3121.0" fill="#b4510f"/>
<polygon points="672.9,3324.5 711.1,3324.5 711.1,3121.0 672.9,3121.0" fill="#ff7f24"/>
<polygon points="672.9,3121.0 711.1,3121.0 723.3,3111.7 685.1,3111.7" fill="#d4600f"/>
<polygon points="768.4,3324.5 806.6,3324.5 818.8,3315.2 818.8,3151.5 780.6,3151.5 768.4,3160.8" fill="#b4510f"/>
<polygon points="768.4,3324.5 806.6,3324.5 806.6,3160.8 768.4,3160.8" fill="#ff7f24"/>
<polygon points="768.4,3160.8 806.6,3160.8 818.8,3151.5 780.6,3151.5" fill="#d4600f"/>
<polygon points="863.9,3324.5 902.1,3324.5 914.3,3315.2 914.3,3185.8 876.1,3185.8 863.9,3195.1" fill="#b4510f"/>
<polygon points="863.9,3324.5 902.1,3324.5 902.1,3195.1 863.9,3195.1" fill="#ff7f24"/>
<polygon points="863.9,3195.1 902.1,3195.1 914.3,3185.8 876.1,3185.8" fill="#d4600f"/>
<polygon points="353.8,3349.3 392.0,3349.3 404.2,3340.0 404.2,3089.1 366.0,3089.1 353.8,3098.4" fill="#6b6b6b"/>
<polygon points="353.8,3349.3 392.0,3349.3 392.0,3098.4 353.8,3098.4" fill="#a6a6a6"/>
<polygon points="353.8,3098.4 392.0,3098.4 404.2,3089.1 366.0,3089.1" fill="#808080"/>
<polygon points="449.3,3349.3 487.5,3349.3 499.7,3340.0 499.7,3095.5 461.5,3095.5 449.3,3104.8" fill="#6b6b6b"/>
<polygon points="449.3,3349.3 487.5,3349.3 487.5,3104.8 449.3,3104.8" fill="#a6a6a6"/>
<polygon points="449.3,3104.8 487.5,3104.8 499.7,3095.5 461.5,3095.5" fill="#808080"/>
<polygon points="544.8,3349.3 583.0,3349.3 595.2,3340.0 595.2,3080.9 557.0,3080.9 544.8,3090.2" fill="#6b6b6b"/>
<polygon points="544.8,3349.3 583.0,3349.3 583.0,3090.2 544.8,3090.2" fill="#a6a6a6"/>
<polygon points="544.8,3090.2 583.0,3090.2 595.2,3080.9 557.0,3080.9" fill="#808080"/>
<polygon points="640.3,3349.3 678.5,3349.3 690.7,3340.0 690.7,3200.9 652.5,3200.9 640.3,3210.2" fill="#6b6b6b"/>
<polygon points="640.3,3349.3 678.5,3349.3 678.5,3210.2 640.3,3210.2" fill="#a6a6a6"/>
<polygon points="640.3,3210.2 678.5,3210.2 690.7,3200.9 652.5,3200.9" fill="#808080"/>
<polygon points="735.8,3349.3 774.0,3349.3 786.2,3340.0 786.2,3208.0 748.0,3208.0 735.8,3217.2" fill="#6b6b6b"/>
<polygon points="735.8,3349.3 774.0,3349.3 774.0,3217.2 735.8,3217.2" fill="#a6a6a6"/>
<polygon points="735.8,3217.2 774.0,3217.2 786.2,3208.0 748.0,3208.0" fill="#808080"/>
<polygon points="831.3,3349.3 869.5,3349.3 881.7,3340.0 881.7,3220.0 843.5,3220.0 831.3,3229.3" fill="#6b6b6b"/>
<polygon points="831.3,3349.3 869.5,3349.3 869.5,3229.3 831.3,3229.3" fill="#a6a6a6"/>
<polygon points="831.3,3229.3 869.5,3229.3 881.7,3220.0 843.5,3220.0" fill="#808080"/>
<polygon points="321.1,3374.0 359.3,3374.0 371.5,3364.7 371.5,3093.1 333.3,3093.1 321.1,3102.4" fill="#b88700"/>
<polygon points="321.1,3374.0 359.3,3374.0 359.3,3102.4 321.1,3102.4" fill="#ffc000"/>
<polygon points="321.1,3102.4 359.3,3102.4 371.5,3093.1 333.3,3093.1" fill="#d89a00"/>
<polygon points="416.6,3374.0 454.8,3374.0 467.0,3364.7 467.0,3122.5 428.8,3122.5 416.6,3131.7" fill="#b88700"/>
<polygon points="416.6,3374.0 454.8,3374.0 454.8,3131.7 416.6,3131.7" fill="#ffc000"/>
<polygon points="416.6,3131.7 454.8,3131.7 467.0,3122.5 428.8,3122.5" fill="#d89a00"/>
<polygon points="512.1,3374.0 550.3,3374.0 562.5,3364.7 562.5,3119.3 524.3,3119.3 512.1,3128.6" fill="#b88700"/>
<polygon points="512.1,3374.0 550.3,3374.0 550.3,3128.6 512.1,3128.6" fill="#ffc000"/>
<polygon points="512.1,3128.6 550.3,3128.6 562.5,3119.3 524.3,3119.3" fill="#d89a00"/>
<polygon points="607.6,3374.0 645.8,3374.0 658.0,3364.7 658.0,3241.5 619.8,3241.5 607.6,3250.8" fill="#b88700"/>
<polygon points="607.6,3374.0 645.8,3374.0 645.8,3250.8 607.6,3250.8" fill="#ffc000"/>
<polygon points="607.6,3250.8 645.8,3250.8 658.0,3241.5 619.8,3241.5" fill="#d89a00"/>
<polygon points="703.1,3374.0 741.3,3374.0 753.5,3364.7 753.5,3245.6 715.3,3245.6 703.1,3254.9" fill="#b88700"/>
<polygon points="703.1,3374.0 741.3,3374.0 741.3,3254.9 703.1,3254.9" fill="#ffc000"/>
<polygon points="703.1,3254.9 741.3,3254.9 753.5,3245.6 715.3,3245.6" fill="#d89a00"/>
<polygon points="798.6,3374.0 836.8,3374.0 849.0,3364.7 849.0,3246.1 810.8,3246.1 798.6,3255.4" fill="#b88700"/>
<polygon points="798.6,3374.0 836.8,3374.0 836.8,3255.4 798.6,3255.4" fill="#ffc000"/>
<polygon points="798.6,3255.4 836.8,3255.4 849.0,3246.1 810.8,3246.1" fill="#d89a00"/>
<polygon points="288.5,3398.8 326.7,3398.8 338.9,3389.5 338.9,3210.3 300.7,3210.3 288.5,3219.5" fill="#164a8e"/>
<polygon points="288.5,3398.8 326.7,3398.8 326.7,3219.5 288.5,3219.5" fill="#1e72d0"/>
<polygon points="288.5,3219.5 326.7,3219.5 338.9,3210.3 300.7,3210.3" fill="#1a56a8"/>
<polygon points="384.0,3398.8 422.2,3398.8 434.4,3389.5 434.4,3230.9 396.2,3230.9 384.0,3240.2" fill="#164a8e"/>
<polygon points="384.0,3398.8 422.2,3398.8 422.2,3240.2 384.0,3240.2" fill="#1e72d0"/>
<polygon points="384.0,3240.2 422.2,3240.2 434.4,3230.9 396.2,3230.9" fill="#1a56a8"/>
<polygon points="479.5,3398.8 517.7,3398.8 529.9,3389.5 529.9,3227.7 491.7,3227.7 479.5,3237.0" fill="#164a8e"/>
<polygon points="479.5,3398.8 517.7,3398.8 517.7,3237.0 479.5,3237.0" fill="#1e72d0"/>
<polygon points="479.5,3237.0 517.7,3237.0 529.9,3227.7 491.7,3227.7" fill="#1a56a8"/>
<polygon points="575.0,3398.8 613.2,3398.8 625.4,3389.5 625.4,3262.7 587.2,3262.7 575.0,3271.9" fill="#164a8e"/>
<polygon points="575.0,3398.8 613.2,3398.8 613.2,3271.9 575.0,3271.9" fill="#1e72d0"/>
<polygon points="575.0,3271.9 613.2,3271.9 625.4,3262.7 587.2,3262.7" fill="#1a56a8"/>
<polygon points="670.5,3398.8 708.7,3398.8 720.9,3389.5 720.9,3265.3 682.7,3265.3 670.5,3274.5" fill="#164a8e"/>
<polygon points="670.5,3398.8 708.7,3398.8 708.7,3274.5 670.5,3274.5" fill="#1e72d0"/>
<polygon points="670.5,3274.5 708.7,3274.5 720.9,3265.3 682.7,3265.3" fill="#1a56a8"/>
<polygon points="766.0,3398.8 804.2,3398.8 816.4,3389.5 816.4,3292.9 778.2,3292.9 766.0,3302.2" fill="#164a8e"/>
<polygon points="766.0,3398.8 804.2,3398.8 804.2,3302.2 766.0,3302.2" fill="#1e72d0"/>
<polygon points="766.0,3302.2 804.2,3302.2 816.4,3292.9 778.2,3292.9" fill="#1a56a8"/>
<polygon points="255.8,3423.5 294.0,3423.5 306.2,3414.2 306.2,3235.8 268.0,3235.8 255.8,3245.1" fill="#2b7523"/>
<polygon points="255.8,3423.5 294.0,3423.5 294.0,3245.1 255.8,3245.1" fill="#44ae3b"/>
<polygon points="255.8,3245.1 294.0,3245.1 306.2,3235.8 268.0,3235.8" fill="#32882b"/>
<polygon points="351.3,3423.5 389.5,3423.5 401.7,3414.2 401.7,3250.6 363.5,3250.6 351.3,3259.9" fill="#2b7523"/>
<polygon points="351.3,3423.5 389.5,3423.5 389.5,3259.9 351.3,3259.9" fill="#44ae3b"/>
<polygon points="351.3,3259.9 389.5,3259.9 401.7,3250.6 363.5,3250.6" fill="#32882b"/>
<polygon points="446.8,3423.5 485.0,3423.5 497.2,3414.2 497.2,3257.4 459.0,3257.4 446.8,3266.7" fill="#2b7523"/>
<polygon points="446.8,3423.5 485.0,3423.5 485.0,3266.7 446.8,3266.7" fill="#44ae3b"/>
<polygon points="446.8,3266.7 485.0,3266.7 497.2,3257.4 459.0,3257.4" fill="#32882b"/>
<polygon points="542.3,3423.5 580.5,3423.5 592.7,3414.2 592.7,3289.7 554.5,3289.7 542.3,3299.0" fill="#2b7523"/>
<polygon points="542.3,3423.5 580.5,3423.5 580.5,3299.0 542.3,3299.0" fill="#44ae3b"/>
<polygon points="542.3,3299.0 580.5,3299.0 592.7,3289.7 554.5,3289.7" fill="#32882b"/>
<polygon points="637.8,3423.5 676.0,3423.5 688.2,3414.2 688.2,3329.7 650.0,3329.7 637.8,3338.9" fill="#2b7523"/>
<polygon points="637.8,3423.5 676.0,3423.5 676.0,3338.9 637.8,3338.9" fill="#44ae3b"/>
<polygon points="637.8,3338.9 676.0,3338.9 688.2,3329.7 650.0,3329.7" fill="#32882b"/>
<polygon points="733.3,3423.5 771.5,3423.5 783.7,3414.2 745.5,3414.2" fill="#32882b"/>
<polygon points="223.2,3448.3 261.4,3448.3 273.6,3439.0 273.6,3262.2 235.4,3262.2 223.2,3271.5" fill="#003c66"/>
<polygon points="223.2,3448.3 261.4,3448.3 261.4,3271.5 223.2,3271.5" fill="#005c99"/>
<polygon points="223.2,3271.5 261.4,3271.5 273.6,3262.2 235.4,3262.2" fill="#00477b"/>
<polygon points="318.7,3448.3 356.9,3448.3 369.1,3439.0 369.1,3322.0 330.9,3322.0 318.7,3331.3" fill="#003c66"/>
<polygon points="318.7,3448.3 356.9,3448.3 356.9,3331.3 318.7,3331.3" fill="#005c99"/>
<polygon points="318.7,3331.3 356.9,3331.3 369.1,3322.0 330.9,3322.0" fill="#00477b"/>
<polygon points="414.2,3448.3 452.4,3448.3 464.6,3439.0 464.6,3324.2 426.4,3324.2 414.2,3333.5" fill="#003c66"/>
<polygon points="414.2,3448.3 452.4,3448.3 452.4,3333.5 414.2,3333.5" fill="#005c99"/>
<polygon points="414.2,3333.5 452.4,3333.5 464.6,3324.2 426.4,3324.2" fill="#00477b"/>
<polygon points="509.7,3448.3 547.9,3448.3 560.1,3439.0 560.1,3348.6 521.9,3348.6 509.7,3357.8" fill="#003c66"/>
<polygon points="509.7,3448.3 547.9,3448.3 547.9,3357.8 509.7,3357.8" fill="#005c99"/>
<polygon points="509.7,3357.8 547.9,3357.8 560.1,3348.6 521.9,3348.6" fill="#00477b"/>
<polygon points="605.2,3448.3 643.4,3448.3 655.6,3439.0 617.4,3439.0" fill="#00477b"/>
<polygon points="700.7,3448.3 738.9,3448.3 751.1,3439.0 712.9,3439.0" fill="#00477b"/>
<line x1="184.3" y1="3456.0" x2="184.3" y2="2801.5" stroke="#d9d9d9" stroke-width="3.8"/>
<line x1="184.3" y1="3456.0" x2="757.3" y2="3456.0" stroke="#d9d9d9" stroke-width="3.8"/>
<line x1="184.3" y1="3456.0" x2="201.3" y2="3456.0" stroke="#d9d9d9" stroke-width="3.0"/>
<line x1="184.3" y1="3326.0" x2="201.3" y2="3326.0" stroke="#d9d9d9" stroke-width="3.0"/>
<line x1="184.3" y1="3196.0" x2="201.3" y2="3196.0" stroke="#d9d9d9" stroke-width="3.0"/>
<line x1="184.3" y1="3066.0" x2="201.3" y2="3066.0" stroke="#d9d9d9" stroke-width="3.0"/>
<line x1="184.3" y1="2936.0" x2="201.3" y2="2936.0" stroke="#d9d9d9" stroke-width="3.0"/>
<line x1="184.3" y1="2806.0" x2="201.3" y2="2806.0" stroke="#d9d9d9" stroke-width="3.0"/>
<line x1="279.8" y1="3436.0" x2="279.8" y2="3456.0" stroke="#d9d9d9" stroke-width="3.0"/>
<line x1="375.3" y1="3436.0" x2="375.3" y2="3456.0" stroke="#d9d9d9" stroke-width="3.0"/>
<line x1="470.8" y1="3436.0" x2="470.8" y2="3456.0" stroke="#d9d9d9" stroke-width="3.0"/>
<line x1="566.3" y1="3436.0" x2="566.3" y2="3456.0" stroke="#d9d9d9" stroke-width="3.0"/>
<line x1="661.8" y1="3436.0" x2="661.8" y2="3456.0" stroke="#d9d9d9" stroke-width="3.0"/>
<line x1="757.3" y1="3436.0" x2="757.3" y2="3456.0" stroke="#d9d9d9" stroke-width="3.0"/>
<text x="90.6" y="897.5" font-family="Liberation Sans" font-weight="bold" font-size="50.8" fill="#595959">0</text>
<text x="90.0" y="764.8" font-family="Liberation Sans" font-weight="bold" font-size="50.8" fill="#595959">1</text>
<text x="90.6" y="632.3" font-family="Liberation Sans" font-weight="bold" font-size="50.8" fill="#595959">2</text>
<text x="90.4" y="498.0" font-family="Liberation Sans" font-weight="bold" font-size="50.8" fill="#595959">3</text>
<text x="88.8" y="363.5" font-family="Liberation Sans" font-weight="bold" font-size="50.8" fill="#595959">4</text>
<text x="90.0" y="230.7" font-family="Liberation Sans" font-weight="bold" font-size="50.8" fill="#595959">5</text>
<text transform="translate(58.8,669.9) rotate(-90)" x="-3.5" y="0" font-family="Liberation Sans" font-weight="bold" font-size="52.2" fill="#595959" textLength="37.7" lengthAdjust="spacingAndGlyphs">N</text>
<text transform="translate(58.8,632.5) rotate(-90)" x="-4.2" y="0" font-family="Liberation Sans" font-weight="bold" font-size="52.2" fill="#595959" textLength="52.3" lengthAdjust="spacingAndGlyphs">M</text>
<text transform="translate(58.8,584.1) rotate(-90)" x="-1.2" y="0" font-family="Liberation Sans" font-weight="bold" font-size="52.2" fill="#595959" textLength="35.8" lengthAdjust="spacingAndGlyphs">A</text>
<text transform="translate(58.8,545.8) rotate(-90)" x="-2.9" y="0" font-family="Liberation Sans" font-weight="bold" font-size="52.2" fill="#595959" textLength="29.2" lengthAdjust="spacingAndGlyphs">P</text>
<text transform="translate(58.8,516.0) rotate(-90)" x="-2.7" y="0" font-family="Liberation Sans" font-weight="bold" font-size="52.2" fill="#595959" textLength="26.9" lengthAdjust="spacingAndGlyphs">E</text>
<text transform="translate(58.8,487.8) rotate(-90)" x="-2.2" y="0" font-family="Liberation Sans" font-weight="bold" font-size="52.2" fill="#595959" textLength="14.6" lengthAdjust="spacingAndGlyphs">(</text>
<text transform="translate(58.8,472.6) rotate(-90)" x="-1.2" y="0" font-family="Liberation Sans" font-weight="bold" font-size="52.2" fill="#595959" textLength="42.4" lengthAdjust="spacingAndGlyphs">%</text>
<text transform="translate(58.8,427.6) rotate(-90)" x="-0.0" y="0" font-family="Liberation Sans" font-weight="bold" font-size="52.2" fill="#595959" textLength="15.3" lengthAdjust="spacingAndGlyphs">)</text>
<text x="186.7" y="970.7" font-family="Liberation Sans" font-weight="bold" font-size="48.7" fill="#595959">&#x3C9;</text>
<text x="228.5" y="970.7" font-family="Liberation Sans" font-weight="bold" font-size="50.5" fill="#595959">1</text>
<text x="285.5" y="970.7" font-family="Liberation Sans" font-weight="bold" font-size="48.7" fill="#595959">&#x3C9;</text>
<text x="328.3" y="970.7" font-family="Liberation Sans" font-weight="bold" font-size="50.5" fill="#595959">2</text>
<text x="384.2" y="970.7" font-family="Liberation Sans" font-weight="bold" font-size="48.7" fill="#595959">&#x3C9;</text>
<text x="427.3" y="970.7" font-family="Liberation Sans" font-weight="bold" font-size="50.5" fill="#595959">3</text>
<text x="483.0" y="970.7" font-family="Liberation Sans" font-weight="bold" font-size="48.7" fill="#595959">&#x3C9;</text>
<text x="525.4" y="970.7" font-family="Liberation Sans" font-weight="bold" font-size="50.5" fill="#595959">4</text>
<text x="581.7" y="970.7" font-family="Liberation Sans" font-weight="bold" font-size="48.7" fill="#595959">&#x3C9;</text>
<text x="624.4" y="970.7" font-family="Liberation Sans" font-weight="bold" font-size="50.5" fill="#595959">5</text>
<text x="680.5" y="970.7" font-family="Liberation Sans" font-weight="bold" font-size="48.7" fill="#595959">&#x3C9;</text>
<text x="723.2" y="970.7" font-family="Liberation Sans" font-weight="bold" font-size="50.5" fill="#595959">6</text>
<text x="180.3" y="1054.7" font-family="Liberation Sans" font-weight="bold" font-size="51.9" fill="#595959" textLength="39.6" lengthAdjust="spacingAndGlyphs">N</text>
<text x="219.8" y="1054.7" font-family="Liberation Sans" font-weight="bold" font-size="51.9" fill="#595959" textLength="33.0" lengthAdjust="spacingAndGlyphs">u</text>
<text x="251.6" y="1054.7" font-family="Liberation Sans" font-weight="bold" font-size="51.9" fill="#595959" textLength="50.5" lengthAdjust="spacingAndGlyphs">m</text>
<text x="298.0" y="1054.7" font-family="Liberation Sans" font-weight="bold" font-size="51.9" fill="#595959" textLength="32.9" lengthAdjust="spacingAndGlyphs">b</text>
<text x="329.6" y="1054.7" font-family="Liberation Sans" font-weight="bold" font-size="51.9" fill="#595959" textLength="27.2" lengthAdjust="spacingAndGlyphs">e</text>
<text x="356.2" y="1054.7" font-family="Liberation Sans" font-weight="bold" font-size="51.9" fill="#595959" textLength="22.9" lengthAdjust="spacingAndGlyphs">r</text>
<text x="392.4" y="1054.7" font-family="Liberation Sans" font-weight="bold" font-size="51.9" fill="#595959" textLength="29.9" lengthAdjust="spacingAndGlyphs">o</text>
<text x="422.4" y="1054.7" font-family="Liberation Sans" font-weight="bold" font-size="51.9" fill="#595959" textLength="19.0" lengthAdjust="spacingAndGlyphs">f</text>
<text x="454.4" y="1054.7" font-family="Liberation Sans" font-weight="bold" font-size="51.9" fill="#595959" textLength="32.9" lengthAdjust="spacingAndGlyphs">d</text>
<text x="483.6" y="1054.7" font-family="Liberation Sans" font-weight="bold" font-size="51.9" fill="#595959" textLength="16.2" lengthAdjust="spacingAndGlyphs">i</text>
<text x="499.6" y="1054.7" font-family="Liberation Sans" font-weight="bold" font-size="51.9" fill="#595959" textLength="22.1" lengthAdjust="spacingAndGlyphs">s</text>
<text x="521.5" y="1054.7" font-family="Liberation Sans" font-weight="bold" font-size="51.9" fill="#595959" textLength="33.0" lengthAdjust="spacingAndGlyphs">p</text>
<text x="552.2" y="1054.7" font-family="Liberation Sans" font-weight="bold" font-size="51.9" fill="#595959" textLength="16.2" lengthAdjust="spacingAndGlyphs">l</text>
<text x="568.9" y="1054.7" font-family="Liberation Sans" font-weight="bold" font-size="51.9" fill="#595959" textLength="26.2" lengthAdjust="spacingAndGlyphs">a</text>
<text x="597.7" y="1054.7" font-family="Liberation Sans" font-weight="bold" font-size="51.9" fill="#595959" textLength="26.3" lengthAdjust="spacingAndGlyphs">c</text>
<text x="622.7" y="1054.7" font-family="Liberation Sans" font-weight="bold" font-size="51.9" fill="#595959" textLength="27.8" lengthAdjust="spacingAndGlyphs">e</text>
<text x="647.8" y="1054.7" font-family="Liberation Sans" font-weight="bold" font-size="51.9" fill="#595959" textLength="49.9" lengthAdjust="spacingAndGlyphs">m</text>
<text x="697.2" y="1054.7" font-family="Liberation Sans" font-weight="bold" font-size="51.9" fill="#595959" textLength="27.9" lengthAdjust="spacingAndGlyphs">e</text>
<text x="725.0" y="1054.7" font-family="Liberation Sans" font-weight="bold" font-size="51.9" fill="#595959" textLength="31.7" lengthAdjust="spacingAndGlyphs">n</text>
<text x="755.8" y="1054.7" font-family="Liberation Sans" font-weight="bold" font-size="51.9" fill="#595959" textLength="20.4" lengthAdjust="spacingAndGlyphs">t</text>
<text x="790.2" y="1054.7" font-family="Liberation Sans" font-weight="bold" font-size="51.9" fill="#595959" textLength="31.8" lengthAdjust="spacingAndGlyphs">d</text>
<text x="820.8" y="1054.7" font-family="Liberation Sans" font-weight="bold" font-size="51.9" fill="#595959" textLength="25.3" lengthAdjust="spacingAndGlyphs">a</text>
<text x="848.6" y="1054.7" font-family="Liberation Sans" font-weight="bold" font-size="51.9" fill="#595959" textLength="20.6" lengthAdjust="spacingAndGlyphs">t</text>
<text x="870.2" y="1054.7" font-family="Liberation Sans" font-weight="bold" font-size="51.9" fill="#595959" textLength="24.1" lengthAdjust="spacingAndGlyphs">a</text>
<g transform="translate(1042.0,719.6)"><path d="M16.80,0 A16.80,13.00 0 1,0 -16.80,0 A16.80,13.00 0 1,0 16.80,0 Z M10.20,0 A10.20,9.40 0 1,0 -10.20,0 A10.20,9.40 0 1,0 10.20,0 Z" fill="#595959" fill-rule="evenodd" transform="skewX(-11)"/><line x1="5.8" y1="-23.8" x2="-5.0" y2="24.2" stroke="#595959" stroke-width="7.2"/></g>
<text x="1062.8" y="732.2" font-family="Liberation Sans" font-weight="bold" font-size="49.4" fill="#595959" textLength="136.1" lengthAdjust="spacingAndGlyphs">0 [20]</text>
<g transform="translate(1005.7,770.8)"><path d="M16.80,0 A16.80,13.00 0 1,0 -16.80,0 A16.80,13.00 0 1,0 16.80,0 Z M10.20,0 A10.20,9.40 0 1,0 -10.20,0 A10.20,9.40 0 1,0 10.20,0 Z" fill="#595959" fill-rule="evenodd" transform="skewX(-11)"/><line x1="5.8" y1="-23.8" x2="-5.0" y2="24.2" stroke="#595959" stroke-width="7.2"/></g>
<text x="1023.0" y="783.0" font-family="Liberation Sans" font-weight="bold" font-size="49.4" fill="#595959" textLength="30.4" lengthAdjust="spacingAndGlyphs">2</text>
<g transform="translate(938.3,821.2)"><path d="M16.80,0 A16.80,13.00 0 1,0 -16.80,0 A16.80,13.00 0 1,0 16.80,0 Z M10.20,0 A10.20,9.40 0 1,0 -10.20,0 A10.20,9.40 0 1,0 10.20,0 Z" fill="#595959" fill-rule="evenodd" transform="skewX(-11)"/><line x1="5.8" y1="-23.8" x2="-5.0" y2="24.2" stroke="#595959" stroke-width="7.2"/></g>
<text x="955.5" y="835.3" font-family="Liberation Sans" font-weight="bold" font-size="49.4" fill="#595959" textLength="29.5" lengthAdjust="spacingAndGlyphs">4</text>
<g transform="translate(870.2,870.8)"><path d="M16.80,0 A16.80,13.00 0 1,0 -16.80,0 A16.80,13.00 0 1,0 16.80,0 Z M10.20,0 A10.20,9.40 0 1,0 -10.20,0 A10.20,9.40 0 1,0 10.20,0 Z" fill="#595959" fill-rule="evenodd" transform="skewX(-11)"/><line x1="5.8" y1="-23.8" x2="-5.0" y2="24.2" stroke="#595959" stroke-width="7.2"/></g>
<text x="889.7" y="885.0" font-family="Liberation Sans" font-weight="bold" font-size="49.4" fill="#595959" textLength="28.9" lengthAdjust="spacingAndGlyphs">6</text>
<text x="1126.7" y="848.5" font-family="Liberation Sans" font-weight="bold" font-size="50.0" fill="#595959" textLength="39.9" lengthAdjust="spacingAndGlyphs">N</text>
<text x="1166.5" y="848.5" font-family="Liberation Sans" font-weight="bold" font-size="50.0" fill="#595959" textLength="30.9" lengthAdjust="spacingAndGlyphs">u</text>
<text x="1197.0" y="848.5" font-family="Liberation Sans" font-weight="bold" font-size="50.0" fill="#595959" textLength="50.1" lengthAdjust="spacingAndGlyphs">m</text>
<text x="1244.8" y="848.5" font-family="Liberation Sans" font-weight="bold" font-size="50.0" fill="#595959" textLength="29.3" lengthAdjust="spacingAndGlyphs">b</text>
<text x="1275.4" y="848.5" font-family="Liberation Sans" font-weight="bold" font-size="50.0" fill="#595959" textLength="28.9" lengthAdjust="spacingAndGlyphs">e</text>
<text x="1303.2" y="848.5" font-family="Liberation Sans" font-weight="bold" font-size="50.0" fill="#595959" textLength="22.4" lengthAdjust="spacingAndGlyphs">r</text>
<text x="1338.3" y="848.5" font-family="Liberation Sans" font-weight="bold" font-size="50.0" fill="#595959" textLength="30.5" lengthAdjust="spacingAndGlyphs">o</text>
<text x="1368.1" y="848.5" font-family="Liberation Sans" font-weight="bold" font-size="50.0" fill="#595959" textLength="20.2" lengthAdjust="spacingAndGlyphs">f</text>
<text x="1137.0" y="921.1" font-family="Liberation Sans" font-weight="bold" font-size="50.0" fill="#595959" textLength="23.7" lengthAdjust="spacingAndGlyphs">a</text>
<text x="1164.3" y="921.1" font-family="Liberation Sans" font-weight="bold" font-size="50.0" fill="#595959" textLength="30.8" lengthAdjust="spacingAndGlyphs">d</text>
<text x="1195.9" y="921.1" font-family="Liberation Sans" font-weight="bold" font-size="50.0" fill="#595959" textLength="30.8" lengthAdjust="spacingAndGlyphs">d</text>
<text x="1226.1" y="921.1" font-family="Liberation Sans" font-weight="bold" font-size="50.0" fill="#595959" textLength="14.0" lengthAdjust="spacingAndGlyphs">i</text>
<text x="1239.9" y="921.1" font-family="Liberation Sans" font-weight="bold" font-size="50.0" fill="#595959" textLength="15.6" lengthAdjust="spacingAndGlyphs">t</text>
<text x="1260.0" y="921.1" font-family="Liberation Sans" font-weight="bold" font-size="50.0" fill="#595959" textLength="16.4" lengthAdjust="spacingAndGlyphs">i</text>
<text x="1274.8" y="921.1" font-family="Liberation Sans" font-weight="bold" font-size="50.0" fill="#595959" textLength="28.1" lengthAdjust="spacingAndGlyphs">o</text>
<text x="1303.8" y="921.1" font-family="Liberation Sans" font-weight="bold" font-size="50.0" fill="#595959" textLength="30.0" lengthAdjust="spacingAndGlyphs">n</text>
<text x="1337.5" y="921.1" font-family="Liberation Sans" font-weight="bold" font-size="50.0" fill="#595959" textLength="25.5" lengthAdjust="spacingAndGlyphs">a</text>
<text x="1364.9" y="921.1" font-family="Liberation Sans" font-weight="bold" font-size="50.0" fill="#595959" textLength="16.6" lengthAdjust="spacingAndGlyphs">l</text>
<text x="1204.1" y="990.8" font-family="Liberation Sans" font-weight="bold" font-size="50.0" fill="#595959" textLength="31.3" lengthAdjust="spacingAndGlyphs">d</text>
<text x="1236.0" y="990.8" font-family="Liberation Sans" font-weight="bold" font-size="50.0" fill="#595959" textLength="24.8" lengthAdjust="spacingAndGlyphs">a</text>
<text x="1263.0" y="990.8" font-family="Liberation Sans" font-weight="bold" font-size="50.0" fill="#595959" textLength="19.2" lengthAdjust="spacingAndGlyphs">t</text>
<text x="1285.0" y="990.8" font-family="Liberation Sans" font-weight="bold" font-size="50.0" fill="#595959" textLength="23.4" lengthAdjust="spacingAndGlyphs">a</text>
<text x="658.5" y="1208.3" font-family="Liberation Serif" font-size="86.0" fill="#000" textLength="94.2" lengthAdjust="spacingAndGlyphs">(<tspan font-weight="bold">a</tspan>)</text>
<text x="116.6" y="2185.5" font-family="Liberation Sans" font-weight="bold" font-size="48.0" fill="#595959">0</text>
<text x="115.9" y="2057.2" font-family="Liberation Sans" font-weight="bold" font-size="48.0" fill="#595959">1</text>
<text x="116.5" y="1929.1" font-family="Liberation Sans" font-weight="bold" font-size="48.0" fill="#595959">2</text>
<text x="116.3" y="1799.8" font-family="Liberation Sans" font-weight="bold" font-size="48.0" fill="#595959">3</text>
<text x="114.9" y="1671.0" font-family="Liberation Sans" font-weight="bold" font-size="48.0" fill="#595959">4</text>
<text x="115.9" y="1541.4" font-family="Liberation Sans" font-weight="bold" font-size="48.0" fill="#595959">5</text>
<text transform="translate(85.1,1969.0) rotate(-90)" x="-3.4" y="0" font-family="Liberation Sans" font-weight="bold" font-size="50.6" fill="#595959" textLength="36.7" lengthAdjust="spacingAndGlyphs">N</text>
<text transform="translate(85.1,1932.6) rotate(-90)" x="-4.1" y="0" font-family="Liberation Sans" font-weight="bold" font-size="50.6" fill="#595959" textLength="50.9" lengthAdjust="spacingAndGlyphs">M</text>
<text transform="translate(85.1,1885.4) rotate(-90)" x="-1.2" y="0" font-family="Liberation Sans" font-weight="bold" font-size="50.6" fill="#595959" textLength="34.9" lengthAdjust="spacingAndGlyphs">A</text>
<text transform="translate(85.1,1848.1) rotate(-90)" x="-2.9" y="0" font-family="Liberation Sans" font-weight="bold" font-size="50.6" fill="#595959" textLength="28.5" lengthAdjust="spacingAndGlyphs">P</text>
<text transform="translate(85.1,1819.1) rotate(-90)" x="-2.6" y="0" font-family="Liberation Sans" font-weight="bold" font-size="50.6" fill="#595959" textLength="26.2" lengthAdjust="spacingAndGlyphs">E</text>
<text transform="translate(85.1,1791.6) rotate(-90)" x="-2.1" y="0" font-family="Liberation Sans" font-weight="bold" font-size="50.6" fill="#595959" textLength="14.3" lengthAdjust="spacingAndGlyphs">(</text>
<text transform="translate(85.1,1776.8) rotate(-90)" x="-1.2" y="0" font-family="Liberation Sans" font-weight="bold" font-size="50.6" fill="#595959" textLength="41.4" lengthAdjust="spacingAndGlyphs">%</text>
<text transform="translate(85.1,1733.0) rotate(-90)" x="-0.0" y="0" font-family="Liberation Sans" font-weight="bold" font-size="50.6" fill="#595959" textLength="14.9" lengthAdjust="spacingAndGlyphs">)</text>
<text x="207.8" y="2257.1" font-family="Liberation Sans" font-weight="bold" font-size="47.5" fill="#595959">&#x3C9;</text>
<text x="248.6" y="2257.1" font-family="Liberation Sans" font-weight="bold" font-size="49.2" fill="#595959">1</text>
<text x="303.0" y="2257.1" font-family="Liberation Sans" font-weight="bold" font-size="47.5" fill="#595959">&#x3C9;</text>
<text x="344.7" y="2257.1" font-family="Liberation Sans" font-weight="bold" font-size="49.2" fill="#595959">2</text>
<text x="398.1" y="2257.1" font-family="Liberation Sans" font-weight="bold" font-size="47.5" fill="#595959">&#x3C9;</text>
<text x="440.1" y="2257.1" font-family="Liberation Sans" font-weight="bold" font-size="49.2" fill="#595959">3</text>
<text x="493.3" y="2257.1" font-family="Liberation Sans" font-weight="bold" font-size="47.5" fill="#595959">&#x3C9;</text>
<text x="534.6" y="2257.1" font-family="Liberation Sans" font-weight="bold" font-size="49.2" fill="#595959">4</text>
<text x="588.4" y="2257.1" font-family="Liberation Sans" font-weight="bold" font-size="47.5" fill="#595959">&#x3C9;</text>
<text x="630.0" y="2257.1" font-family="Liberation Sans" font-weight="bold" font-size="49.2" fill="#595959">5</text>
<text x="683.6" y="2257.1" font-family="Liberation Sans" font-weight="bold" font-size="47.5" fill="#595959">&#x3C9;</text>
<text x="725.2" y="2257.1" font-family="Liberation Sans" font-weight="bold" font-size="49.2" fill="#595959">6</text>
<text x="201.9" y="2337.2" font-family="Liberation Sans" font-weight="bold" font-size="50.6" fill="#595959" textLength="38.1" lengthAdjust="spacingAndGlyphs">N</text>
<text x="240.0" y="2337.2" font-family="Liberation Sans" font-weight="bold" font-size="50.6" fill="#595959" textLength="31.8" lengthAdjust="spacingAndGlyphs">u</text>
<text x="270.5" y="2337.2" font-family="Liberation Sans" font-weight="bold" font-size="50.6" fill="#595959" textLength="48.6" lengthAdjust="spacingAndGlyphs">m</text>
<text x="315.2" y="2337.2" font-family="Liberation Sans" font-weight="bold" font-size="50.6" fill="#595959" textLength="31.7" lengthAdjust="spacingAndGlyphs">b</text>
<text x="345.7" y="2337.2" font-family="Liberation Sans" font-weight="bold" font-size="50.6" fill="#595959" textLength="26.2" lengthAdjust="spacingAndGlyphs">e</text>
<text x="371.4" y="2337.2" font-family="Liberation Sans" font-weight="bold" font-size="50.6" fill="#595959" textLength="22.0" lengthAdjust="spacingAndGlyphs">r</text>
<text x="406.2" y="2337.2" font-family="Liberation Sans" font-weight="bold" font-size="50.6" fill="#595959" textLength="28.8" lengthAdjust="spacingAndGlyphs">o</text>
<text x="435.2" y="2337.2" font-family="Liberation Sans" font-weight="bold" font-size="50.6" fill="#595959" textLength="18.3" lengthAdjust="spacingAndGlyphs">f</text>
<text x="466.0" y="2337.2" font-family="Liberation Sans" font-weight="bold" font-size="50.6" fill="#595959" textLength="31.7" lengthAdjust="spacingAndGlyphs">d</text>
<text x="494.2" y="2337.2" font-family="Liberation Sans" font-weight="bold" font-size="50.6" fill="#595959" textLength="15.6" lengthAdjust="spacingAndGlyphs">i</text>
<text x="509.6" y="2337.2" font-family="Liberation Sans" font-weight="bold" font-size="50.6" fill="#595959" textLength="21.3" lengthAdjust="spacingAndGlyphs">s</text>
<text x="530.7" y="2337.2" font-family="Liberation Sans" font-weight="bold" font-size="50.6" fill="#595959" textLength="31.8" lengthAdjust="spacingAndGlyphs">p</text>
<text x="560.3" y="2337.2" font-family="Liberation Sans" font-weight="bold" font-size="50.6" fill="#595959" textLength="15.6" lengthAdjust="spacingAndGlyphs">l</text>
<text x="576.4" y="2337.2" font-family="Liberation Sans" font-weight="bold" font-size="50.6" fill="#595959" textLength="25.2" lengthAdjust="spacingAndGlyphs">a</text>
<text x="604.1" y="2337.2" font-family="Liberation Sans" font-weight="bold" font-size="50.6" fill="#595959" textLength="25.4" lengthAdjust="spacingAndGlyphs">c</text>
<text x="628.2" y="2337.2" font-family="Liberation Sans" font-weight="bold" font-size="50.6" fill="#595959" textLength="26.8" lengthAdjust="spacingAndGlyphs">e</text>
<text x="652.4" y="2337.2" font-family="Liberation Sans" font-weight="bold" font-size="50.6" fill="#595959" textLength="48.1" lengthAdjust="spacingAndGlyphs">m</text>
<text x="700.1" y="2337.2" font-family="Liberation Sans" font-weight="bold" font-size="50.6" fill="#595959" textLength="26.9" lengthAdjust="spacingAndGlyphs">e</text>
<text x="726.8" y="2337.2" font-family="Liberation Sans" font-weight="bold" font-size="50.6" fill="#595959" textLength="30.6" lengthAdjust="spacingAndGlyphs">n</text>
<text x="756.5" y="2337.2" font-family="Liberation Sans" font-weight="bold" font-size="50.6" fill="#595959" textLength="19.7" lengthAdjust="spacingAndGlyphs">t</text>
<text x="789.6" y="2337.2" font-family="Liberation Sans" font-weight="bold" font-size="50.6" fill="#595959" textLength="30.6" lengthAdjust="spacingAndGlyphs">d</text>
<text x="819.1" y="2337.2" font-family="Liberation Sans" font-weight="bold" font-size="50.6" fill="#595959" textLength="24.4" lengthAdjust="spacingAndGlyphs">a</text>
<text x="846.0" y="2337.2" font-family="Liberation Sans" font-weight="bold" font-size="50.6" fill="#595959" textLength="19.9" lengthAdjust="spacingAndGlyphs">t</text>
<text x="866.8" y="2337.2" font-family="Liberation Sans" font-weight="bold" font-size="50.6" fill="#595959" textLength="23.2" lengthAdjust="spacingAndGlyphs">a</text>
<text x="1012.4" y="2026.0" font-family="Liberation Sans" font-weight="bold" font-size="47.7" fill="#595959" textLength="159.4" lengthAdjust="spacingAndGlyphs">ε0 [20]</text>
<text x="976.4" y="2075.5" font-family="Liberation Sans" font-weight="bold" font-size="47.7" fill="#595959" textLength="54.4" lengthAdjust="spacingAndGlyphs">ε2</text>
<text x="911.7" y="2124.8" font-family="Liberation Sans" font-weight="bold" font-size="47.7" fill="#595959" textLength="53.5" lengthAdjust="spacingAndGlyphs">ε4</text>
<text x="847.0" y="2171.5" font-family="Liberation Sans" font-weight="bold" font-size="47.7" fill="#595959" textLength="54.2" lengthAdjust="spacingAndGlyphs">ε6</text>
<text x="1113.1" y="2138.2" font-family="Liberation Sans" font-weight="bold" font-size="49.0" fill="#595959" textLength="38.6" lengthAdjust="spacingAndGlyphs">N</text>
<text x="1151.6" y="2138.2" font-family="Liberation Sans" font-weight="bold" font-size="49.0" fill="#595959" textLength="29.8" lengthAdjust="spacingAndGlyphs">u</text>
<text x="1181.0" y="2138.2" font-family="Liberation Sans" font-weight="bold" font-size="49.0" fill="#595959" textLength="48.4" lengthAdjust="spacingAndGlyphs">m</text>
<text x="1227.3" y="2138.2" font-family="Liberation Sans" font-weight="bold" font-size="49.0" fill="#595959" textLength="28.3" lengthAdjust="spacingAndGlyphs">b</text>
<text x="1256.8" y="2138.2" font-family="Liberation Sans" font-weight="bold" font-size="49.0" fill="#595959" textLength="27.9" lengthAdjust="spacingAndGlyphs">e</text>
<text x="1283.7" y="2138.2" font-family="Liberation Sans" font-weight="bold" font-size="49.0" fill="#595959" textLength="21.6" lengthAdjust="spacingAndGlyphs">r</text>
<text x="1317.6" y="2138.2" font-family="Liberation Sans" font-weight="bold" font-size="49.0" fill="#595959" textLength="29.5" lengthAdjust="spacingAndGlyphs">o</text>
<text x="1346.3" y="2138.2" font-family="Liberation Sans" font-weight="bold" font-size="49.0" fill="#595959" textLength="19.5" lengthAdjust="spacingAndGlyphs">f</text>
<text x="1122.9" y="2207.3" font-family="Liberation Sans" font-weight="bold" font-size="49.0" fill="#595959" textLength="22.9" lengthAdjust="spacingAndGlyphs">a</text>
<text x="1149.4" y="2207.3" font-family="Liberation Sans" font-weight="bold" font-size="49.0" fill="#595959" textLength="29.8" lengthAdjust="spacingAndGlyphs">d</text>
<text x="1180.0" y="2207.3" font-family="Liberation Sans" font-weight="bold" font-size="49.0" fill="#595959" textLength="29.8" lengthAdjust="spacingAndGlyphs">d</text>
<text x="1209.2" y="2207.3" font-family="Liberation Sans" font-weight="bold" font-size="49.0" fill="#595959" textLength="13.5" lengthAdjust="spacingAndGlyphs">i</text>
<text x="1222.6" y="2207.3" font-family="Liberation Sans" font-weight="bold" font-size="49.0" fill="#595959" textLength="15.1" lengthAdjust="spacingAndGlyphs">t</text>
<text x="1242.0" y="2207.3" font-family="Liberation Sans" font-weight="bold" font-size="49.0" fill="#595959" textLength="15.9" lengthAdjust="spacingAndGlyphs">i</text>
<text x="1256.3" y="2207.3" font-family="Liberation Sans" font-weight="bold" font-size="49.0" fill="#595959" textLength="27.2" lengthAdjust="spacingAndGlyphs">o</text>
<text x="1284.3" y="2207.3" font-family="Liberation Sans" font-weight="bold" font-size="49.0" fill="#595959" textLength="29.0" lengthAdjust="spacingAndGlyphs">n</text>
<text x="1316.9" y="2207.3" font-family="Liberation Sans" font-weight="bold" font-size="49.0" fill="#595959" textLength="24.6" lengthAdjust="spacingAndGlyphs">a</text>
<text x="1343.5" y="2207.3" font-family="Liberation Sans" font-weight="bold" font-size="49.0" fill="#595959" textLength="16.1" lengthAdjust="spacingAndGlyphs">l</text>
<text x="1187.9" y="2275.7" font-family="Liberation Sans" font-weight="bold" font-size="49.0" fill="#595959" textLength="30.6" lengthAdjust="spacingAndGlyphs">d</text>
<text x="1219.2" y="2275.7" font-family="Liberation Sans" font-weight="bold" font-size="49.0" fill="#595959" textLength="24.3" lengthAdjust="spacingAndGlyphs">a</text>
<text x="1245.6" y="2275.7" font-family="Liberation Sans" font-weight="bold" font-size="49.0" fill="#595959" textLength="18.8" lengthAdjust="spacingAndGlyphs">t</text>
<text x="1267.1" y="2275.7" font-family="Liberation Sans" font-weight="bold" font-size="49.0" fill="#595959" textLength="22.9" lengthAdjust="spacingAndGlyphs">a</text>
<text x="652.7" y="2495.5" font-family="Liberation Serif" font-size="86.0" fill="#000" textLength="105.1" lengthAdjust="spacingAndGlyphs">(<tspan font-weight="bold">b</tspan>)</text>
<text x="105.7" y="3473.5" font-family="Liberation Sans" font-weight="bold" font-size="48.0" fill="#595959">0</text>
<text x="105.0" y="3344.0" font-family="Liberation Sans" font-weight="bold" font-size="48.0" fill="#595959">1</text>
<text x="105.6" y="3214.8" font-family="Liberation Sans" font-weight="bold" font-size="48.0" fill="#595959">2</text>
<text x="105.4" y="3085.0" font-family="Liberation Sans" font-weight="bold" font-size="48.0" fill="#595959">3</text>
<text x="104.0" y="2955.2" font-family="Liberation Sans" font-weight="bold" font-size="48.0" fill="#595959">4</text>
<text x="105.0" y="2825.5" font-family="Liberation Sans" font-weight="bold" font-size="48.0" fill="#595959">5</text>
<text transform="translate(73.8,3252.0) rotate(-90)" x="-3.4" y="0" font-family="Liberation Sans" font-weight="bold" font-size="49.8" fill="#595959" textLength="36.5" lengthAdjust="spacingAndGlyphs">N</text>
<text transform="translate(73.8,3215.8) rotate(-90)" x="-4.1" y="0" font-family="Liberation Sans" font-weight="bold" font-size="49.8" fill="#595959" textLength="50.6" lengthAdjust="spacingAndGlyphs">M</text>
<text transform="translate(73.8,3169.1) rotate(-90)" x="-1.2" y="0" font-family="Liberation Sans" font-weight="bold" font-size="49.8" fill="#595959" textLength="34.7" lengthAdjust="spacingAndGlyphs">A</text>
<text transform="translate(73.8,3132.0) rotate(-90)" x="-2.8" y="0" font-family="Liberation Sans" font-weight="bold" font-size="49.8" fill="#595959" textLength="28.3" lengthAdjust="spacingAndGlyphs">P</text>
<text transform="translate(73.8,3103.2) rotate(-90)" x="-2.6" y="0" font-family="Liberation Sans" font-weight="bold" font-size="49.8" fill="#595959" textLength="26.0" lengthAdjust="spacingAndGlyphs">E</text>
<text transform="translate(73.8,3076.0) rotate(-90)" x="-2.1" y="0" font-family="Liberation Sans" font-weight="bold" font-size="49.8" fill="#595959" textLength="14.1" lengthAdjust="spacingAndGlyphs">(</text>
<text transform="translate(73.8,3061.3) rotate(-90)" x="-1.1" y="0" font-family="Liberation Sans" font-weight="bold" font-size="49.8" fill="#595959" textLength="41.0" lengthAdjust="spacingAndGlyphs">%</text>
<text transform="translate(73.8,3017.8) rotate(-90)" x="-0.0" y="0" font-family="Liberation Sans" font-weight="bold" font-size="49.8" fill="#595959" textLength="14.8" lengthAdjust="spacingAndGlyphs">)</text>
<text x="198.0" y="3543.3" font-family="Liberation Sans" font-weight="bold" font-size="47.5" fill="#595959">&#x3C9;</text>
<text x="238.7" y="3543.3" font-family="Liberation Sans" font-weight="bold" font-size="49.2" fill="#595959">1</text>
<text x="293.5" y="3543.3" font-family="Liberation Sans" font-weight="bold" font-size="47.5" fill="#595959">&#x3C9;</text>
<text x="335.2" y="3543.3" font-family="Liberation Sans" font-weight="bold" font-size="49.2" fill="#595959">2</text>
<text x="389.0" y="3543.3" font-family="Liberation Sans" font-weight="bold" font-size="47.5" fill="#595959">&#x3C9;</text>
<text x="430.9" y="3543.3" font-family="Liberation Sans" font-weight="bold" font-size="49.2" fill="#595959">3</text>
<text x="484.5" y="3543.3" font-family="Liberation Sans" font-weight="bold" font-size="47.5" fill="#595959">&#x3C9;</text>
<text x="525.9" y="3543.3" font-family="Liberation Sans" font-weight="bold" font-size="49.2" fill="#595959">4</text>
<text x="580.0" y="3543.3" font-family="Liberation Sans" font-weight="bold" font-size="47.5" fill="#595959">&#x3C9;</text>
<text x="621.5" y="3543.3" font-family="Liberation Sans" font-weight="bold" font-size="49.2" fill="#595959">5</text>
<text x="675.5" y="3543.3" font-family="Liberation Sans" font-weight="bold" font-size="47.5" fill="#595959">&#x3C9;</text>
<text x="717.1" y="3543.3" font-family="Liberation Sans" font-weight="bold" font-size="49.2" fill="#595959">6</text>
<text x="191.8" y="3624.5" font-family="Liberation Sans" font-weight="bold" font-size="50.0" fill="#595959" textLength="38.3" lengthAdjust="spacingAndGlyphs">N</text>
<text x="230.0" y="3624.5" font-family="Liberation Sans" font-weight="bold" font-size="50.0" fill="#595959" textLength="32.0" lengthAdjust="spacingAndGlyphs">u</text>
<text x="260.7" y="3624.5" font-family="Liberation Sans" font-weight="bold" font-size="50.0" fill="#595959" textLength="48.8" lengthAdjust="spacingAndGlyphs">m</text>
<text x="305.6" y="3624.5" font-family="Liberation Sans" font-weight="bold" font-size="50.0" fill="#595959" textLength="31.8" lengthAdjust="spacingAndGlyphs">b</text>
<text x="336.2" y="3624.5" font-family="Liberation Sans" font-weight="bold" font-size="50.0" fill="#595959" textLength="26.3" lengthAdjust="spacingAndGlyphs">e</text>
<text x="362.0" y="3624.5" font-family="Liberation Sans" font-weight="bold" font-size="50.0" fill="#595959" textLength="22.1" lengthAdjust="spacingAndGlyphs">r</text>
<text x="397.0" y="3624.5" font-family="Liberation Sans" font-weight="bold" font-size="50.0" fill="#595959" textLength="29.0" lengthAdjust="spacingAndGlyphs">o</text>
<text x="426.1" y="3624.5" font-family="Liberation Sans" font-weight="bold" font-size="50.0" fill="#595959" textLength="18.4" lengthAdjust="spacingAndGlyphs">f</text>
<text x="457.0" y="3624.5" font-family="Liberation Sans" font-weight="bold" font-size="50.0" fill="#595959" textLength="31.8" lengthAdjust="spacingAndGlyphs">d</text>
<text x="485.3" y="3624.5" font-family="Liberation Sans" font-weight="bold" font-size="50.0" fill="#595959" textLength="15.7" lengthAdjust="spacingAndGlyphs">i</text>
<text x="500.8" y="3624.5" font-family="Liberation Sans" font-weight="bold" font-size="50.0" fill="#595959" textLength="21.4" lengthAdjust="spacingAndGlyphs">s</text>
<text x="522.0" y="3624.5" font-family="Liberation Sans" font-weight="bold" font-size="50.0" fill="#595959" textLength="31.9" lengthAdjust="spacingAndGlyphs">p</text>
<text x="551.7" y="3624.5" font-family="Liberation Sans" font-weight="bold" font-size="50.0" fill="#595959" textLength="15.7" lengthAdjust="spacingAndGlyphs">l</text>
<text x="567.9" y="3624.5" font-family="Liberation Sans" font-weight="bold" font-size="50.0" fill="#595959" textLength="25.3" lengthAdjust="spacingAndGlyphs">a</text>
<text x="595.7" y="3624.5" font-family="Liberation Sans" font-weight="bold" font-size="50.0" fill="#595959" textLength="25.5" lengthAdjust="spacingAndGlyphs">c</text>
<text x="619.9" y="3624.5" font-family="Liberation Sans" font-weight="bold" font-size="50.0" fill="#595959" textLength="26.9" lengthAdjust="spacingAndGlyphs">e</text>
<text x="644.2" y="3624.5" font-family="Liberation Sans" font-weight="bold" font-size="50.0" fill="#595959" textLength="48.3" lengthAdjust="spacingAndGlyphs">m</text>
<text x="692.1" y="3624.5" font-family="Liberation Sans" font-weight="bold" font-size="50.0" fill="#595959" textLength="27.0" lengthAdjust="spacingAndGlyphs">e</text>
<text x="718.9" y="3624.5" font-family="Liberation Sans" font-weight="bold" font-size="50.0" fill="#595959" textLength="30.7" lengthAdjust="spacingAndGlyphs">n</text>
<text x="748.7" y="3624.5" font-family="Liberation Sans" font-weight="bold" font-size="50.0" fill="#595959" textLength="19.7" lengthAdjust="spacingAndGlyphs">t</text>
<text x="782.0" y="3624.5" font-family="Liberation Sans" font-weight="bold" font-size="50.0" fill="#595959" textLength="30.7" lengthAdjust="spacingAndGlyphs">d</text>
<text x="811.6" y="3624.5" font-family="Liberation Sans" font-weight="bold" font-size="50.0" fill="#595959" textLength="24.5" lengthAdjust="spacingAndGlyphs">a</text>
<text x="838.6" y="3624.5" font-family="Liberation Sans" font-weight="bold" font-size="50.0" fill="#595959" textLength="19.9" lengthAdjust="spacingAndGlyphs">t</text>
<text x="859.5" y="3624.5" font-family="Liberation Sans" font-weight="bold" font-size="50.0" fill="#595959" textLength="23.3" lengthAdjust="spacingAndGlyphs">a</text>
<g transform="translate(1026.9,3302.1)"><path d="M16.80,0 A16.80,13.00 0 1,0 -16.80,0 A16.80,13.00 0 1,0 16.80,0 Z M10.20,0 A10.20,9.40 0 1,0 -10.20,0 A10.20,9.40 0 1,0 10.20,0 Z" fill="#595959" fill-rule="evenodd" transform="skewX(-11)"/><line x1="5.8" y1="-23.8" x2="-5.0" y2="24.2" stroke="#595959" stroke-width="7.2"/></g>
<text x="1045.9" y="3312.5" font-family="Liberation Sans" font-weight="bold" font-size="48.0" fill="#595959" textLength="27.7" lengthAdjust="spacingAndGlyphs">0</text>
<rect x="1073.2" y="3317.5" width="28.8" height="6.2" fill="#595959"/>
<text x="1101.8" y="3312.5" font-family="Liberation Sans" font-weight="bold" font-size="48.0" fill="#595959" textLength="157.6" lengthAdjust="spacingAndGlyphs">ε0 [20]</text>
<g transform="translate(990.8,3348.2)"><path d="M16.80,0 A16.80,13.00 0 1,0 -16.80,0 A16.80,13.00 0 1,0 16.80,0 Z M10.20,0 A10.20,9.40 0 1,0 -10.20,0 A10.20,9.40 0 1,0 10.20,0 Z" fill="#595959" fill-rule="evenodd" transform="skewX(-11)"/><line x1="5.8" y1="-23.8" x2="-5.0" y2="24.2" stroke="#595959" stroke-width="7.2"/></g>
<text x="1009.9" y="3361.3" font-family="Liberation Sans" font-weight="bold" font-size="48.0" fill="#595959" textLength="26.3" lengthAdjust="spacingAndGlyphs">2</text>
<rect x="1036.9" y="3366.3" width="28.7" height="6.2" fill="#595959"/>
<text x="1065.4" y="3361.3" font-family="Liberation Sans" font-weight="bold" font-size="48.0" fill="#595959" textLength="53.1" lengthAdjust="spacingAndGlyphs">ε2</text>
<g transform="translate(926.3,3399.0)"><path d="M16.80,0 A16.80,13.00 0 1,0 -16.80,0 A16.80,13.00 0 1,0 16.80,0 Z M10.20,0 A10.20,9.40 0 1,0 -10.20,0 A10.20,9.40 0 1,0 10.20,0 Z" fill="#595959" fill-rule="evenodd" transform="skewX(-11)"/><line x1="5.8" y1="-23.8" x2="-5.0" y2="24.2" stroke="#595959" stroke-width="7.2"/></g>
<text x="943.6" y="3411.9" font-family="Liberation Sans" font-weight="bold" font-size="48.0" fill="#595959" textLength="26.6" lengthAdjust="spacingAndGlyphs">4</text>
<rect x="972.2" y="3416.9" width="27.9" height="6.2" fill="#595959"/>
<text x="1000.5" y="3411.9" font-family="Liberation Sans" font-weight="bold" font-size="48.0" fill="#595959" textLength="51.0" lengthAdjust="spacingAndGlyphs">ε4</text>
<g transform="translate(860.0,3446.8)"><path d="M16.80,0 A16.80,13.00 0 1,0 -16.80,0 A16.80,13.00 0 1,0 16.80,0 Z M10.20,0 A10.20,9.40 0 1,0 -10.20,0 A10.20,9.40 0 1,0 10.20,0 Z" fill="#595959" fill-rule="evenodd" transform="skewX(-11)"/><line x1="5.8" y1="-23.8" x2="-5.0" y2="24.2" stroke="#595959" stroke-width="7.2"/></g>
<text x="877.3" y="3459.8" font-family="Liberation Sans" font-weight="bold" font-size="48.0" fill="#595959" textLength="29.5" lengthAdjust="spacingAndGlyphs">6</text>
<rect x="906.0" y="3464.8" width="27.8" height="6.2" fill="#595959"/>
<text x="934.2" y="3459.8" font-family="Liberation Sans" font-weight="bold" font-size="48.0" fill="#595959" textLength="55.0" lengthAdjust="spacingAndGlyphs">ε6</text>
<text x="1107.6" y="3424.3" font-family="Liberation Sans" font-weight="bold" font-size="50.0" fill="#595959" textLength="38.6" lengthAdjust="spacingAndGlyphs">N</text>
<text x="1146.1" y="3424.3" font-family="Liberation Sans" font-weight="bold" font-size="50.0" fill="#595959" textLength="29.9" lengthAdjust="spacingAndGlyphs">u</text>
<text x="1175.6" y="3424.3" font-family="Liberation Sans" font-weight="bold" font-size="50.0" fill="#595959" textLength="48.5" lengthAdjust="spacingAndGlyphs">m</text>
<text x="1222.0" y="3424.3" font-family="Liberation Sans" font-weight="bold" font-size="50.0" fill="#595959" textLength="28.4" lengthAdjust="spacingAndGlyphs">b</text>
<text x="1251.5" y="3424.3" font-family="Liberation Sans" font-weight="bold" font-size="50.0" fill="#595959" textLength="28.0" lengthAdjust="spacingAndGlyphs">e</text>
<text x="1278.5" y="3424.3" font-family="Liberation Sans" font-weight="bold" font-size="50.0" fill="#595959" textLength="21.6" lengthAdjust="spacingAndGlyphs">r</text>
<text x="1312.5" y="3424.3" font-family="Liberation Sans" font-weight="bold" font-size="50.0" fill="#595959" textLength="29.5" lengthAdjust="spacingAndGlyphs">o</text>
<text x="1341.2" y="3424.3" font-family="Liberation Sans" font-weight="bold" font-size="50.0" fill="#595959" textLength="19.6" lengthAdjust="spacingAndGlyphs">f</text>
<text x="1117.4" y="3495.0" font-family="Liberation Sans" font-weight="bold" font-size="50.0" fill="#595959" textLength="23.0" lengthAdjust="spacingAndGlyphs">a</text>
<text x="1144.0" y="3495.0" font-family="Liberation Sans" font-weight="bold" font-size="50.0" fill="#595959" textLength="30.0" lengthAdjust="spacingAndGlyphs">d</text>
<text x="1174.8" y="3495.0" font-family="Liberation Sans" font-weight="bold" font-size="50.0" fill="#595959" textLength="30.0" lengthAdjust="spacingAndGlyphs">d</text>
<text x="1204.1" y="3495.0" font-family="Liberation Sans" font-weight="bold" font-size="50.0" fill="#595959" textLength="13.6" lengthAdjust="spacingAndGlyphs">i</text>
<text x="1217.6" y="3495.0" font-family="Liberation Sans" font-weight="bold" font-size="50.0" fill="#595959" textLength="15.2" lengthAdjust="spacingAndGlyphs">t</text>
<text x="1237.1" y="3495.0" font-family="Liberation Sans" font-weight="bold" font-size="50.0" fill="#595959" textLength="16.0" lengthAdjust="spacingAndGlyphs">i</text>
<text x="1251.5" y="3495.0" font-family="Liberation Sans" font-weight="bold" font-size="50.0" fill="#595959" textLength="27.3" lengthAdjust="spacingAndGlyphs">o</text>
<text x="1279.7" y="3495.0" font-family="Liberation Sans" font-weight="bold" font-size="50.0" fill="#595959" textLength="29.2" lengthAdjust="spacingAndGlyphs">n</text>
<text x="1312.5" y="3495.0" font-family="Liberation Sans" font-weight="bold" font-size="50.0" fill="#595959" textLength="24.8" lengthAdjust="spacingAndGlyphs">a</text>
<text x="1339.3" y="3495.0" font-family="Liberation Sans" font-weight="bold" font-size="50.0" fill="#595959" textLength="16.2" lengthAdjust="spacingAndGlyphs">l</text>
<text x="1183.1" y="3563.2" font-family="Liberation Sans" font-weight="bold" font-size="50.0" fill="#595959" textLength="30.7" lengthAdjust="spacingAndGlyphs">d</text>
<text x="1214.4" y="3563.2" font-family="Liberation Sans" font-weight="bold" font-size="50.0" fill="#595959" textLength="24.4" lengthAdjust="spacingAndGlyphs">a</text>
<text x="1240.9" y="3563.2" font-family="Liberation Sans" font-weight="bold" font-size="50.0" fill="#595959" textLength="18.9" lengthAdjust="spacingAndGlyphs">t</text>
<text x="1262.5" y="3563.2" font-family="Liberation Sans" font-weight="bold" font-size="50.0" fill="#595959" textLength="22.9" lengthAdjust="spacingAndGlyphs">a</text>
<text x="660.3" y="3783.5" font-family="Liberation Serif" font-size="86.0" fill="#000" textLength="90.7" lengthAdjust="spacingAndGlyphs">(<tspan font-weight="bold">c</tspan>)</text>
</g>
</svg>
</body></html>
